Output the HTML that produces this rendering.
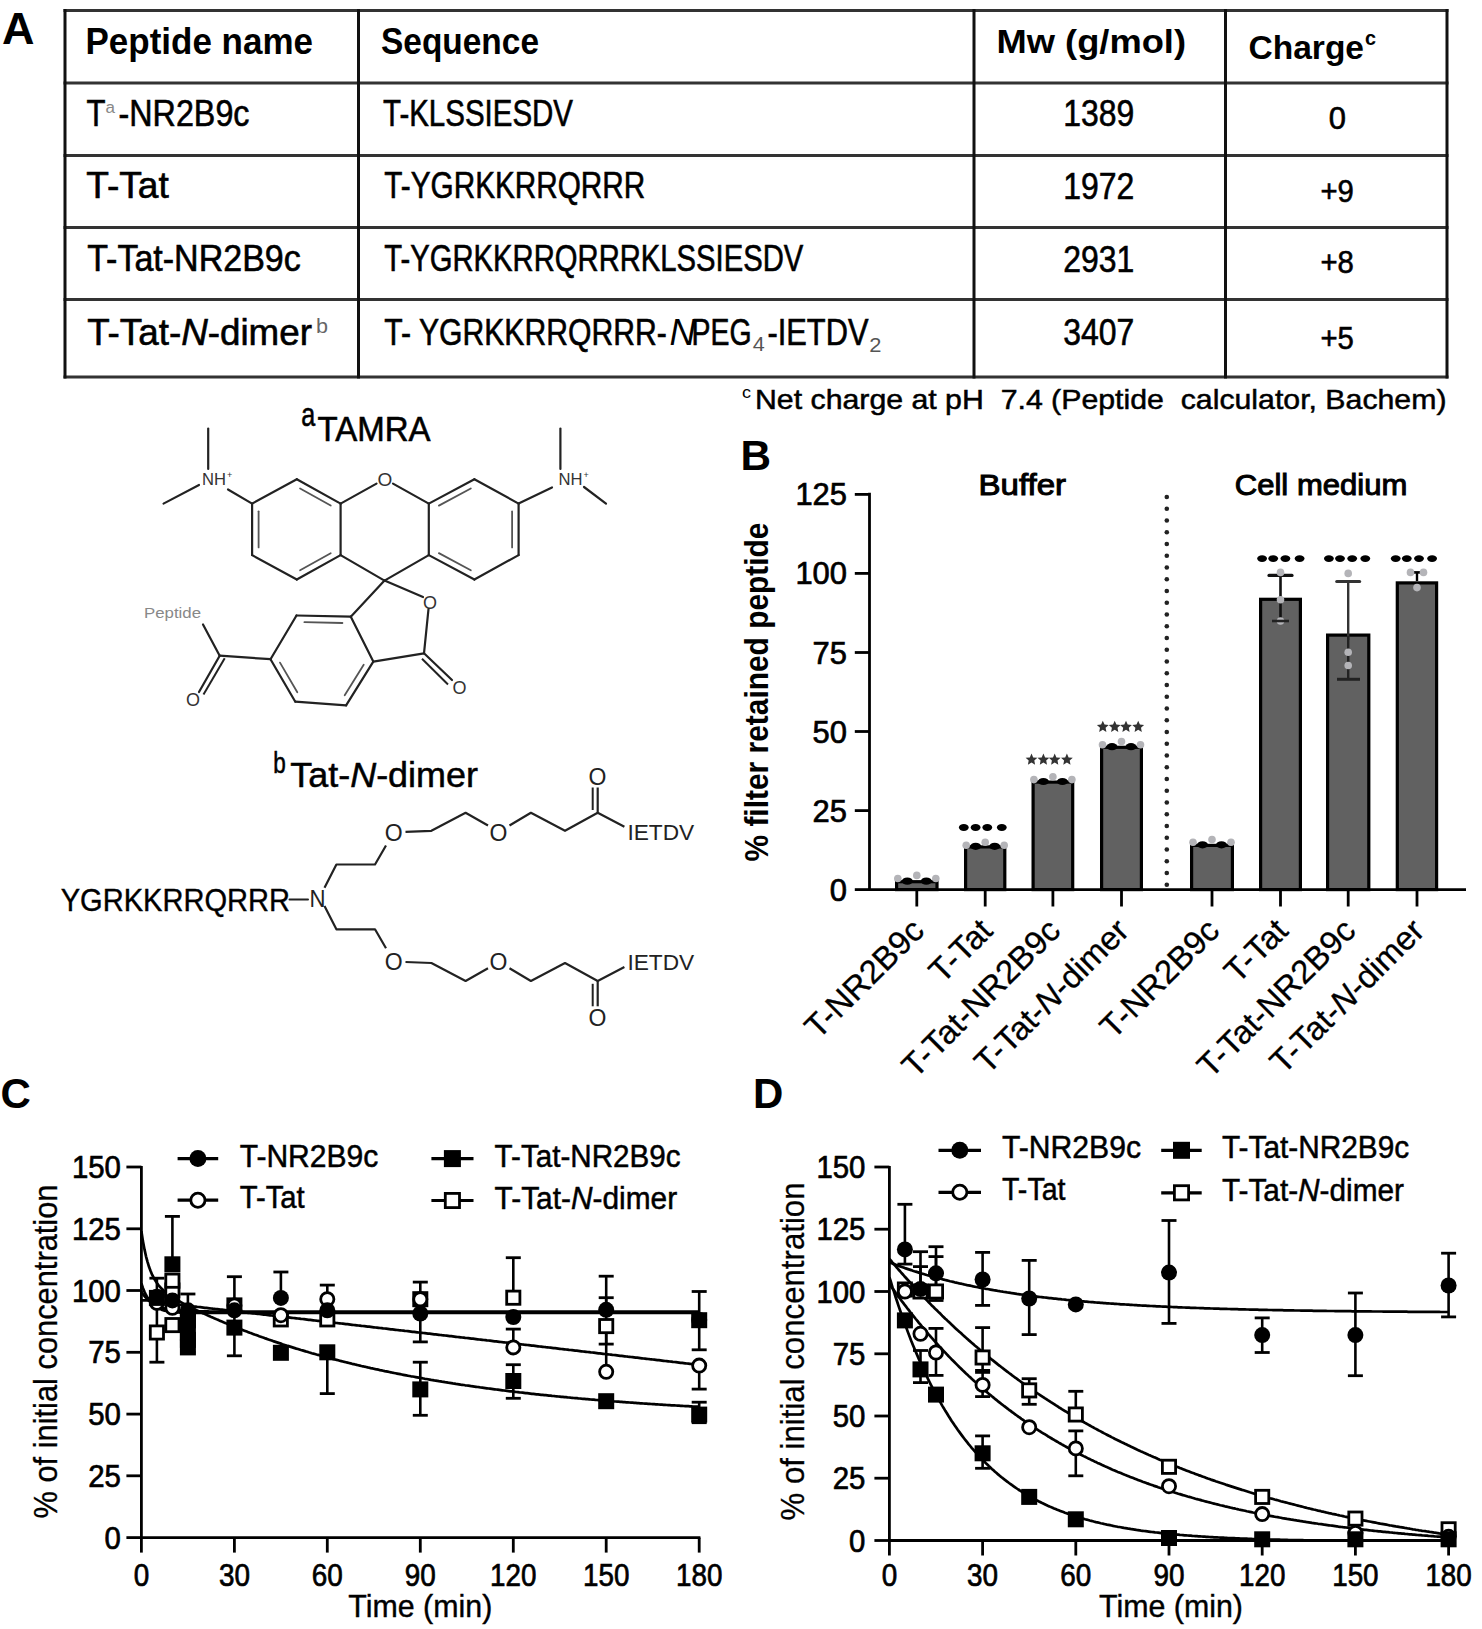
<!DOCTYPE html>
<html><head><meta charset="utf-8"><style>
html,body{margin:0;padding:0;background:#fff;}
svg{display:block;}
text{font-family:"Liberation Sans",sans-serif;}
</style></head><body>
<svg width="1482" height="1629" viewBox="0 0 1482 1629">
<rect width="1482" height="1629" fill="#fff"/>
<text x="2.0" y="43.6" font-size="43.5" font-weight="bold" textLength="32.5" lengthAdjust="spacingAndGlyphs">A</text>
<line x1="63.5" y1="10.5" x2="1448.5" y2="10.5" stroke="#333" stroke-width="3.2" />
<line x1="63.5" y1="83.0" x2="1448.5" y2="83.0" stroke="#333" stroke-width="3.2" />
<line x1="63.5" y1="155.5" x2="1448.5" y2="155.5" stroke="#333" stroke-width="3.2" />
<line x1="63.5" y1="227.5" x2="1448.5" y2="227.5" stroke="#333" stroke-width="3.2" />
<line x1="63.5" y1="299.5" x2="1448.5" y2="299.5" stroke="#333" stroke-width="3.2" />
<line x1="63.5" y1="377.0" x2="1448.5" y2="377.0" stroke="#333" stroke-width="3.2" />
<line x1="65.0" y1="9.0" x2="65.0" y2="378.5" stroke="#111" stroke-width="3" />
<line x1="358.5" y1="9.0" x2="358.5" y2="378.5" stroke="#111" stroke-width="3" />
<line x1="974.0" y1="9.0" x2="974.0" y2="378.5" stroke="#111" stroke-width="3" />
<line x1="1225.5" y1="9.0" x2="1225.5" y2="378.5" stroke="#111" stroke-width="3" />
<line x1="1447.0" y1="9.0" x2="1447.0" y2="378.5" stroke="#111" stroke-width="3" />
<text x="85.5" y="53.5" font-size="36" font-weight="bold" textLength="227.5" lengthAdjust="spacingAndGlyphs">Peptide name</text>
<text x="381.0" y="54.0" font-size="36.5" font-weight="bold" textLength="158.0" lengthAdjust="spacingAndGlyphs">Sequence</text>
<text x="996.5" y="53.0" font-size="33" font-weight="bold" textLength="189.5" lengthAdjust="spacingAndGlyphs">Mw (g/mol)</text>
<text x="1248.5" y="59.2" font-size="34" font-weight="bold" textLength="115.5" lengthAdjust="spacingAndGlyphs">Charge</text>
<text x="1365.0" y="45.0" font-size="20" font-weight="bold" textLength="11.0" lengthAdjust="spacingAndGlyphs">c</text>
<text x="86.5" y="126.4" font-size="36" textLength="19.0" lengthAdjust="spacingAndGlyphs" style="stroke:#000;stroke-width:0.6">T</text>
<text x="105.5" y="113.3" font-size="16" textLength="9.5" lengthAdjust="spacingAndGlyphs" fill="#888" style="stroke:none">a</text>
<text x="118.5" y="126.4" font-size="36" textLength="131.0" lengthAdjust="spacingAndGlyphs" style="stroke:#000;stroke-width:0.6">-NR2B9c</text>
<text x="86.3" y="198.4" font-size="36" textLength="82.5" lengthAdjust="spacingAndGlyphs" style="stroke:#000;stroke-width:0.6">T-Tat</text>
<text x="87.2" y="270.8" font-size="36" textLength="213.6" lengthAdjust="spacingAndGlyphs" style="stroke:#000;stroke-width:0.6">T-Tat-NR2B9c</text>
<text x="87.2" y="345.4" font-size="36" textLength="224.7" lengthAdjust="spacingAndGlyphs" style="stroke:#000;stroke-width:0.6">T-Tat-<tspan font-style="italic">N</tspan>-dimer</text>
<text x="316.0" y="333.3" font-size="21" textLength="12.0" lengthAdjust="spacingAndGlyphs" fill="#666" style="stroke:none">b</text>
<text x="383.0" y="126.4" font-size="36" textLength="190.0" lengthAdjust="spacingAndGlyphs" style="stroke:#000;stroke-width:0.6">T-KLSSIESDV</text>
<text x="384.3" y="198.4" font-size="36" textLength="261.0" lengthAdjust="spacingAndGlyphs" style="stroke:#000;stroke-width:0.6">T-YGRKKRRQRRR</text>
<text x="384.3" y="270.8" font-size="36" textLength="419.0" lengthAdjust="spacingAndGlyphs" style="stroke:#000;stroke-width:0.6">T-YGRKKRRQRRRKLSSIESDV</text>
<text x="384.3" y="345.4" font-size="36" textLength="282.5" lengthAdjust="spacingAndGlyphs" style="stroke:#000;stroke-width:0.6">T- YGRKKRRQRRR-</text>
<text x="669.5" y="345.4" font-size="36" textLength="26.0" lengthAdjust="spacingAndGlyphs" style="font-style:italic">N</text>
<text x="691.5" y="345.4" font-size="36" textLength="60.0" lengthAdjust="spacingAndGlyphs" style="stroke:#000;stroke-width:0.6">PEG</text>
<text x="752.8" y="350.9" font-size="21" textLength="12.0" lengthAdjust="spacingAndGlyphs" fill="#555" style="stroke:none">4</text>
<text x="767.5" y="345.4" font-size="36" textLength="101.0" lengthAdjust="spacingAndGlyphs" style="stroke:#000;stroke-width:0.6">-IETDV</text>
<text x="869.2" y="351.7" font-size="21" textLength="12.2" lengthAdjust="spacingAndGlyphs" fill="#555" style="stroke:none">2</text>
<text x="1063.2" y="126.3" font-size="36" textLength="71.0" lengthAdjust="spacingAndGlyphs" style="stroke:#000;stroke-width:0.6">1389</text>
<text x="1063.2" y="198.6" font-size="36" textLength="71.0" lengthAdjust="spacingAndGlyphs" style="stroke:#000;stroke-width:0.6">1972</text>
<text x="1063.2" y="271.5" font-size="36" textLength="71.0" lengthAdjust="spacingAndGlyphs" style="stroke:#000;stroke-width:0.6">2931</text>
<text x="1063.2" y="345.2" font-size="36" textLength="71.0" lengthAdjust="spacingAndGlyphs" style="stroke:#000;stroke-width:0.6">3407</text>
<text x="1328.7" y="128.7" font-size="31" textLength="17.2" lengthAdjust="spacingAndGlyphs" style="stroke:#000;stroke-width:0.6">0</text>
<text x="1320.4" y="201.6" font-size="31" textLength="33.4" lengthAdjust="spacingAndGlyphs" style="stroke:#000;stroke-width:0.6">+9</text>
<text x="1320.4" y="273.2" font-size="31" textLength="33.4" lengthAdjust="spacingAndGlyphs" style="stroke:#000;stroke-width:0.6">+8</text>
<text x="1320.4" y="349.0" font-size="31" textLength="33.4" lengthAdjust="spacingAndGlyphs" style="stroke:#000;stroke-width:0.6">+5</text>
<text x="742.0" y="398.0" font-size="17" textLength="9.0" lengthAdjust="spacingAndGlyphs">c</text>
<text x="755.0" y="408.7" font-size="28" textLength="691.5" lengthAdjust="spacingAndGlyphs" style="stroke:#000;stroke-width:0.5">Net charge at pH &#160;7.4 (Peptide &#160;calculator, Bachem)</text>
<text x="301.3" y="426.4" font-size="34" textLength="14.0" lengthAdjust="spacingAndGlyphs" style="stroke:#000;stroke-width:0.6">a</text>
<text x="317.5" y="440.5" font-size="35" textLength="113.0" lengthAdjust="spacingAndGlyphs" style="stroke:#000;stroke-width:0.6">TAMRA</text>
<line x1="252.1" y1="503.6" x2="296.8" y2="479.2" stroke="#222" stroke-width="2.2" stroke-linecap="round"/>
<line x1="296.8" y1="479.2" x2="340.6" y2="503.6" stroke="#222" stroke-width="2.2" stroke-linecap="round"/>
<line x1="340.6" y1="503.6" x2="340.6" y2="555.1" stroke="#222" stroke-width="2.2" stroke-linecap="round"/>
<line x1="340.6" y1="555.1" x2="296.8" y2="579.5" stroke="#222" stroke-width="2.2" stroke-linecap="round"/>
<line x1="296.8" y1="579.5" x2="252.1" y2="555.1" stroke="#222" stroke-width="2.2" stroke-linecap="round"/>
<line x1="252.1" y1="555.1" x2="252.1" y2="503.6" stroke="#222" stroke-width="2.2" stroke-linecap="round"/>
<line x1="258.6" y1="511.3" x2="258.6" y2="547.4" stroke="#555" stroke-width="1.8" stroke-linecap="round"/>
<line x1="300.1" y1="488.5" x2="330.7" y2="505.5" stroke="#555" stroke-width="1.8" stroke-linecap="round"/>
<line x1="330.7" y1="553.2" x2="300.1" y2="570.2" stroke="#555" stroke-width="1.8" stroke-linecap="round"/>
<line x1="428.8" y1="503.6" x2="474.4" y2="479.2" stroke="#222" stroke-width="2.2" stroke-linecap="round"/>
<line x1="474.4" y1="479.2" x2="518.6" y2="503.6" stroke="#222" stroke-width="2.2" stroke-linecap="round"/>
<line x1="518.6" y1="503.6" x2="518.6" y2="555.1" stroke="#222" stroke-width="2.2" stroke-linecap="round"/>
<line x1="518.6" y1="555.1" x2="474.4" y2="579.5" stroke="#222" stroke-width="2.2" stroke-linecap="round"/>
<line x1="474.4" y1="579.5" x2="428.8" y2="555.1" stroke="#222" stroke-width="2.2" stroke-linecap="round"/>
<line x1="428.8" y1="555.1" x2="428.8" y2="503.6" stroke="#222" stroke-width="2.2" stroke-linecap="round"/>
<line x1="470.8" y1="488.5" x2="438.9" y2="505.6" stroke="#555" stroke-width="1.8" stroke-linecap="round"/>
<line x1="512.1" y1="511.3" x2="512.1" y2="547.4" stroke="#555" stroke-width="1.8" stroke-linecap="round"/>
<line x1="470.8" y1="570.2" x2="438.9" y2="553.1" stroke="#555" stroke-width="1.8" stroke-linecap="round"/>
<text x="384.8" y="485.8" font-size="19" text-anchor="middle" fill="#333">O</text>
<line x1="340.6" y1="503.6" x2="376.5" y2="483.6" stroke="#222" stroke-width="2.2" stroke-linecap="round"/>
<line x1="393.0" y1="483.6" x2="428.8" y2="503.6" stroke="#222" stroke-width="2.2" stroke-linecap="round"/>
<line x1="340.6" y1="555.1" x2="384.5" y2="580.6" stroke="#222" stroke-width="2.2" stroke-linecap="round"/>
<line x1="428.8" y1="555.1" x2="384.5" y2="580.6" stroke="#222" stroke-width="2.2" stroke-linecap="round"/>
<text x="202.0" y="484.6" font-size="16" textLength="24.0" lengthAdjust="spacingAndGlyphs" fill="#333">NH</text>
<text x="227.0" y="478.0" font-size="9" fill="#333">+</text>
<line x1="208.2" y1="428.6" x2="208.2" y2="469.0" stroke="#222" stroke-width="2.2" stroke-linecap="round"/>
<line x1="163.5" y1="503.6" x2="199.0" y2="485.0" stroke="#222" stroke-width="2.2" stroke-linecap="round"/>
<line x1="228.0" y1="489.5" x2="252.1" y2="503.6" stroke="#222" stroke-width="2.2" stroke-linecap="round"/>
<text x="558.6" y="484.6" font-size="16" textLength="24.0" lengthAdjust="spacingAndGlyphs" fill="#333">NH</text>
<text x="583.6" y="478.0" font-size="9" fill="#333">+</text>
<line x1="560.4" y1="428.6" x2="560.4" y2="469.0" stroke="#222" stroke-width="2.2" stroke-linecap="round"/>
<line x1="584.0" y1="487.0" x2="606.0" y2="503.6" stroke="#222" stroke-width="2.2" stroke-linecap="round"/>
<line x1="552.0" y1="487.5" x2="518.6" y2="503.6" stroke="#222" stroke-width="2.2" stroke-linecap="round"/>
<line x1="296.5" y1="615.5" x2="350.8" y2="616.7" stroke="#222" stroke-width="2.2" stroke-linecap="round"/>
<line x1="350.8" y1="616.7" x2="373.3" y2="661.6" stroke="#222" stroke-width="2.2" stroke-linecap="round"/>
<line x1="373.3" y1="661.6" x2="346.1" y2="705.3" stroke="#222" stroke-width="2.2" stroke-linecap="round"/>
<line x1="346.1" y1="705.3" x2="295.3" y2="701.7" stroke="#222" stroke-width="2.2" stroke-linecap="round"/>
<line x1="295.3" y1="701.7" x2="270.5" y2="659.2" stroke="#222" stroke-width="2.2" stroke-linecap="round"/>
<line x1="270.5" y1="659.2" x2="296.5" y2="615.5" stroke="#222" stroke-width="2.2" stroke-linecap="round"/>
<line x1="304.4" y1="622.2" x2="342.4" y2="623.0" stroke="#555" stroke-width="1.8" stroke-linecap="round"/>
<line x1="363.7" y1="664.7" x2="344.7" y2="695.3" stroke="#555" stroke-width="1.8" stroke-linecap="round"/>
<line x1="297.3" y1="692.3" x2="280.0" y2="662.6" stroke="#555" stroke-width="1.8" stroke-linecap="round"/>
<line x1="384.5" y1="580.6" x2="350.8" y2="616.7" stroke="#222" stroke-width="2.2" stroke-linecap="round"/>
<text x="430.0" y="608.5" font-size="18" text-anchor="middle" fill="#333">O</text>
<line x1="384.5" y1="580.6" x2="423.0" y2="597.0" stroke="#222" stroke-width="2.2" stroke-linecap="round"/>
<line x1="428.5" y1="609.0" x2="424.0" y2="653.3" stroke="#222" stroke-width="2.2" stroke-linecap="round"/>
<line x1="424.0" y1="653.3" x2="373.3" y2="661.6" stroke="#222" stroke-width="2.2" stroke-linecap="round"/>
<line x1="424.0" y1="653.3" x2="452.0" y2="680.0" stroke="#222" stroke-width="2.2" stroke-linecap="round"/>
<line x1="422.0" y1="658.8" x2="448.0" y2="684.5" stroke="#222" stroke-width="2" />
<text x="459.5" y="694.0" font-size="18" text-anchor="middle" fill="#333">O</text>
<line x1="219.7" y1="655.7" x2="270.5" y2="659.2" stroke="#222" stroke-width="2.2" stroke-linecap="round"/>
<line x1="219.7" y1="655.7" x2="203.0" y2="624.5" stroke="#222" stroke-width="2.2" stroke-linecap="round"/>
<line x1="219.7" y1="655.7" x2="199.0" y2="692.0" stroke="#222" stroke-width="2.2" stroke-linecap="round"/>
<line x1="224.7" y1="658.2" x2="203.5" y2="694.5" stroke="#222" stroke-width="2" />
<text x="193.0" y="706.0" font-size="18" text-anchor="middle" fill="#333">O</text>
<text x="144.0" y="618.0" font-size="15" textLength="57.0" lengthAdjust="spacingAndGlyphs" fill="#888">Peptide</text>
<text x="273.2" y="773.3" font-size="30" textLength="12.5" lengthAdjust="spacingAndGlyphs" style="stroke:#000;stroke-width:0.6">b</text>
<text x="290.3" y="787.4" font-size="35.5" textLength="187.7" lengthAdjust="spacingAndGlyphs" style="stroke:#000;stroke-width:0.5">Tat-<tspan font-style="italic">N</tspan>-dimer</text>
<text x="60.7" y="910.5" font-size="32" textLength="229.3" lengthAdjust="spacingAndGlyphs" style="stroke:#000;stroke-width:0.4">YGRKKRRQRRR</text>
<line x1="289.5" y1="899.5" x2="308.0" y2="899.5" stroke="#222" stroke-width="2" stroke-linecap="round"/>
<text x="317.5" y="906.5" font-size="24" text-anchor="middle" textLength="16.0" lengthAdjust="spacingAndGlyphs" fill="#222">N</text>
<polyline points="324.5,887.7 336.4,864.5 375.0,864.5 386.0,845.5" fill="none" stroke="#222" stroke-width="2.2" stroke-linejoin="round" />
<text x="393.6" y="840.7" font-size="23" text-anchor="middle" fill="#222">O</text>
<polyline points="405.5,831.8 431.4,830.8 465.6,812.8 488.0,825.5" fill="none" stroke="#222" stroke-width="2.2" stroke-linejoin="round" />
<text x="498.5" y="840.7" font-size="23" text-anchor="middle" fill="#222">O</text>
<polyline points="509.5,825.5 530.9,812.8 565.0,830.8 597.7,812.8 624.4,826.8" fill="none" stroke="#222" stroke-width="2.2" stroke-linejoin="round" />
<line x1="597.7" y1="812.8" x2="597.7" y2="787.5" stroke="#222" stroke-width="2.2" />
<line x1="592.7" y1="810.0" x2="592.7" y2="787.5" stroke="#222" stroke-width="2.0" />
<text x="597.5" y="784.6" font-size="23" text-anchor="middle" fill="#222">O</text>
<text x="627.4" y="839.7" font-size="22" textLength="66.8" lengthAdjust="spacingAndGlyphs" fill="#222">IETDV</text>
<polyline points="324.5,906.1 336.4,929.3 375.0,929.3 386.0,948.3" fill="none" stroke="#222" stroke-width="2.2" stroke-linejoin="round" />
<text x="393.6" y="969.7" font-size="23" text-anchor="middle" fill="#222">O</text>
<polyline points="405.5,962.0 431.4,963.0 465.6,981.0 488.0,968.3" fill="none" stroke="#222" stroke-width="2.2" stroke-linejoin="round" />
<text x="498.5" y="969.7" font-size="23" text-anchor="middle" fill="#222">O</text>
<polyline points="509.5,968.3 530.9,981.0 565.0,963.0 597.7,981.0 624.4,967.0" fill="none" stroke="#222" stroke-width="2.2" stroke-linejoin="round" />
<line x1="597.7" y1="981.0" x2="597.7" y2="1006.3" stroke="#222" stroke-width="2.2" />
<line x1="592.7" y1="983.8" x2="592.7" y2="1006.3" stroke="#222" stroke-width="2.0" />
<text x="597.5" y="1025.8" font-size="23" text-anchor="middle" fill="#222">O</text>
<text x="627.4" y="970.1" font-size="22" textLength="66.8" lengthAdjust="spacingAndGlyphs" fill="#222">IETDV</text>
<text x="740.5" y="469.5" font-size="42.3" font-weight="bold">B</text>
<line x1="869.5" y1="492.8" x2="869.5" y2="891.0" stroke="#000" stroke-width="2.8" />
<line x1="868.2" y1="889.6" x2="1466.0" y2="889.6" stroke="#000" stroke-width="2.8" />
<line x1="854.8" y1="889.6" x2="869.5" y2="889.6" stroke="#000" stroke-width="2.8" />
<text x="847.0" y="900.6" font-size="31" text-anchor="end" textLength="17.2" lengthAdjust="spacingAndGlyphs" style="stroke:#000;stroke-width:0.7">0</text>
<line x1="854.8" y1="810.6" x2="869.5" y2="810.6" stroke="#000" stroke-width="2.8" />
<text x="847.0" y="821.6" font-size="31" text-anchor="end" textLength="34.4" lengthAdjust="spacingAndGlyphs" style="stroke:#000;stroke-width:0.7">25</text>
<line x1="854.8" y1="731.5" x2="869.5" y2="731.5" stroke="#000" stroke-width="2.8" />
<text x="847.0" y="742.5" font-size="31" text-anchor="end" textLength="34.4" lengthAdjust="spacingAndGlyphs" style="stroke:#000;stroke-width:0.7">50</text>
<line x1="854.8" y1="652.5" x2="869.5" y2="652.5" stroke="#000" stroke-width="2.8" />
<text x="847.0" y="663.5" font-size="31" text-anchor="end" textLength="34.4" lengthAdjust="spacingAndGlyphs" style="stroke:#000;stroke-width:0.7">75</text>
<line x1="854.8" y1="573.4" x2="869.5" y2="573.4" stroke="#000" stroke-width="2.8" />
<text x="847.0" y="584.4" font-size="31" text-anchor="end" textLength="51.6" lengthAdjust="spacingAndGlyphs" style="stroke:#000;stroke-width:0.7">100</text>
<line x1="854.8" y1="494.4" x2="869.5" y2="494.4" stroke="#000" stroke-width="2.8" />
<text x="847.0" y="505.4" font-size="31" text-anchor="end" textLength="51.6" lengthAdjust="spacingAndGlyphs" style="stroke:#000;stroke-width:0.7">125</text>
<text transform="translate(767.5,861.5) rotate(-90)" font-size="32.5" font-weight="bold" textLength="339" lengthAdjust="spacingAndGlyphs">% filter retained peptide</text>
<text x="978.5" y="494.8" font-size="29.5" textLength="87.5" lengthAdjust="spacingAndGlyphs" style="stroke:#000;stroke-width:1">Buffer</text>
<text x="1234.8" y="494.8" font-size="29.5" textLength="172.5" lengthAdjust="spacingAndGlyphs" style="stroke:#000;stroke-width:1">Cell medium</text>
<circle cx="1166.8" cy="497.0" r="2.3" fill="#222"/>
<circle cx="1166.8" cy="508.8" r="2.3" fill="#222"/>
<circle cx="1166.8" cy="520.5" r="2.3" fill="#222"/>
<circle cx="1166.8" cy="532.2" r="2.3" fill="#222"/>
<circle cx="1166.8" cy="544.0" r="2.3" fill="#222"/>
<circle cx="1166.8" cy="555.8" r="2.3" fill="#222"/>
<circle cx="1166.8" cy="567.5" r="2.3" fill="#222"/>
<circle cx="1166.8" cy="579.2" r="2.3" fill="#222"/>
<circle cx="1166.8" cy="591.0" r="2.3" fill="#222"/>
<circle cx="1166.8" cy="602.8" r="2.3" fill="#222"/>
<circle cx="1166.8" cy="614.5" r="2.3" fill="#222"/>
<circle cx="1166.8" cy="626.2" r="2.3" fill="#222"/>
<circle cx="1166.8" cy="638.0" r="2.3" fill="#222"/>
<circle cx="1166.8" cy="649.8" r="2.3" fill="#222"/>
<circle cx="1166.8" cy="661.5" r="2.3" fill="#222"/>
<circle cx="1166.8" cy="673.2" r="2.3" fill="#222"/>
<circle cx="1166.8" cy="685.0" r="2.3" fill="#222"/>
<circle cx="1166.8" cy="696.8" r="2.3" fill="#222"/>
<circle cx="1166.8" cy="708.5" r="2.3" fill="#222"/>
<circle cx="1166.8" cy="720.2" r="2.3" fill="#222"/>
<circle cx="1166.8" cy="732.0" r="2.3" fill="#222"/>
<circle cx="1166.8" cy="743.8" r="2.3" fill="#222"/>
<circle cx="1166.8" cy="755.5" r="2.3" fill="#222"/>
<circle cx="1166.8" cy="767.2" r="2.3" fill="#222"/>
<circle cx="1166.8" cy="779.0" r="2.3" fill="#222"/>
<circle cx="1166.8" cy="790.8" r="2.3" fill="#222"/>
<circle cx="1166.8" cy="802.5" r="2.3" fill="#222"/>
<circle cx="1166.8" cy="814.2" r="2.3" fill="#222"/>
<circle cx="1166.8" cy="826.0" r="2.3" fill="#222"/>
<circle cx="1166.8" cy="837.8" r="2.3" fill="#222"/>
<circle cx="1166.8" cy="849.5" r="2.3" fill="#222"/>
<circle cx="1166.8" cy="861.2" r="2.3" fill="#222"/>
<circle cx="1166.8" cy="873.0" r="2.3" fill="#222"/>
<circle cx="1166.8" cy="884.8" r="2.3" fill="#222"/>
<rect x="896.6" y="881.7" width="40.4" height="7.9" fill="#616161" stroke="#000" stroke-width="3.2"/>
<line x1="916.8" y1="889.6" x2="916.8" y2="906.5" stroke="#000" stroke-width="2.8" />
<rect x="965.6" y="846.9" width="39.2" height="42.7" fill="#616161" stroke="#000" stroke-width="3.2"/>
<line x1="985.2" y1="889.6" x2="985.2" y2="906.5" stroke="#000" stroke-width="2.8" />
<rect x="1033.1" y="782.1" width="39.6" height="107.5" fill="#616161" stroke="#000" stroke-width="3.2"/>
<line x1="1052.9" y1="889.6" x2="1052.9" y2="906.5" stroke="#000" stroke-width="2.8" />
<rect x="1101.6" y="747.3" width="39.8" height="142.3" fill="#616161" stroke="#000" stroke-width="3.2"/>
<line x1="1121.5" y1="889.6" x2="1121.5" y2="906.5" stroke="#000" stroke-width="2.8" />
<rect x="1191.6" y="845.4" width="40.8" height="44.2" fill="#616161" stroke="#000" stroke-width="3.2"/>
<line x1="1212.0" y1="889.6" x2="1212.0" y2="906.5" stroke="#000" stroke-width="2.8" />
<rect x="1260.6" y="599.3" width="39.8" height="290.3" fill="#616161" stroke="#000" stroke-width="3.2"/>
<line x1="1280.5" y1="889.6" x2="1280.5" y2="906.5" stroke="#000" stroke-width="2.8" />
<rect x="1327.6" y="635.1" width="41.2" height="254.5" fill="#616161" stroke="#000" stroke-width="3.2"/>
<line x1="1348.2" y1="889.6" x2="1348.2" y2="906.5" stroke="#000" stroke-width="2.8" />
<rect x="1397.3" y="582.9" width="39.3" height="306.7" fill="#616161" stroke="#000" stroke-width="3.2"/>
<line x1="1417.0" y1="889.6" x2="1417.0" y2="906.5" stroke="#000" stroke-width="2.8" />
<ellipse cx="907.3" cy="881.1" rx="5.5" ry="3.6" fill="#000"/>
<ellipse cx="926.3" cy="881.1" rx="5.5" ry="3.6" fill="#000"/>
<ellipse cx="975.7" cy="846.3" rx="5.5" ry="3.6" fill="#000"/>
<ellipse cx="994.7" cy="846.3" rx="5.5" ry="3.6" fill="#000"/>
<ellipse cx="1043.4" cy="781.5" rx="5.5" ry="3.6" fill="#000"/>
<ellipse cx="1062.4" cy="781.5" rx="5.5" ry="3.6" fill="#000"/>
<ellipse cx="1112.0" cy="746.7" rx="5.5" ry="3.6" fill="#000"/>
<ellipse cx="1131.0" cy="746.7" rx="5.5" ry="3.6" fill="#000"/>
<ellipse cx="1202.5" cy="844.8" rx="5.5" ry="3.6" fill="#000"/>
<ellipse cx="1221.5" cy="844.8" rx="5.5" ry="3.6" fill="#000"/>
<circle cx="897.8" cy="878.5" r="3.8" fill="#b4b4b8"/>
<circle cx="916.8" cy="875.4" r="3.8" fill="#b4b4b8"/>
<circle cx="935.8" cy="878.5" r="3.8" fill="#b4b4b8"/>
<circle cx="966.2" cy="845.3" r="3.8" fill="#b4b4b8"/>
<circle cx="985.2" cy="842.2" r="3.8" fill="#b4b4b8"/>
<circle cx="1004.2" cy="845.3" r="3.8" fill="#b4b4b8"/>
<circle cx="1033.9" cy="779.6" r="3.8" fill="#b4b4b8"/>
<circle cx="1052.9" cy="776.7" r="3.8" fill="#b4b4b8"/>
<circle cx="1071.9" cy="779.6" r="3.8" fill="#b4b4b8"/>
<circle cx="1102.5" cy="744.8" r="3.8" fill="#b4b4b8"/>
<circle cx="1121.5" cy="741.6" r="3.8" fill="#b4b4b8"/>
<circle cx="1140.5" cy="744.8" r="3.8" fill="#b4b4b8"/>
<circle cx="1193.0" cy="842.2" r="3.8" fill="#b4b4b8"/>
<circle cx="1212.0" cy="839.6" r="3.8" fill="#b4b4b8"/>
<circle cx="1231.0" cy="842.2" r="3.8" fill="#b4b4b8"/>
<line x1="1280.5" y1="575.4" x2="1280.5" y2="621.0" stroke="#111" stroke-width="2.6" />
<line x1="1269.0" y1="575.4" x2="1292.0" y2="575.4" stroke="#111" stroke-width="3.2" stroke-linecap="round"/>
<circle cx="1280.5" cy="572.4" r="3.8" fill="#b4b4b8"/>
<circle cx="1280.5" cy="599.7" r="3.8" fill="#b4b4b8"/>
<circle cx="1280.5" cy="621.0" r="3.8" fill="#b4b4b8"/>
<line x1="1272.0" y1="621.0" x2="1289.0" y2="621.0" stroke="#222" stroke-width="2.6" />
<line x1="1348.2" y1="581.5" x2="1348.2" y2="640.0" stroke="#333" stroke-width="2.4" />
<line x1="1336.7" y1="581.5" x2="1359.7" y2="581.5" stroke="#333" stroke-width="3.0" stroke-linecap="round"/>
<line x1="1348.2" y1="636.0" x2="1348.2" y2="679.0" stroke="#222" stroke-width="2.4" />
<line x1="1337.0" y1="679.3" x2="1360.0" y2="679.3" stroke="#222" stroke-width="3" />
<circle cx="1348.2" cy="573.4" r="3.8" fill="#b4b4b8"/>
<circle cx="1348.2" cy="652.3" r="3.8" fill="#b4b4b8"/>
<circle cx="1348.2" cy="665.5" r="3.8" fill="#b4b4b8"/>
<line x1="1417.0" y1="572.4" x2="1417.0" y2="581.0" stroke="#000" stroke-width="2.4" />
<line x1="1410.0" y1="572.4" x2="1424.0" y2="572.4" stroke="#000" stroke-width="2.6" />
<circle cx="1410.5" cy="572.4" r="3.8" fill="#b4b4b8"/>
<circle cx="1423.5" cy="572.4" r="3.8" fill="#b4b4b8"/>
<circle cx="1417.0" cy="587.6" r="3.8" fill="#b4b4b8"/>
<ellipse cx="963.8" cy="827.5" rx="4.9" ry="3.4" fill="#000"/>
<ellipse cx="975.6" cy="827.5" rx="4.9" ry="3.4" fill="#000"/>
<ellipse cx="987.3" cy="827.5" rx="4.9" ry="3.4" fill="#000"/>
<ellipse cx="1001.8" cy="827.5" rx="4.9" ry="3.4" fill="#000"/>
<polygon points="1031.5,753.5 1033.2,757.4 1037.4,757.8 1034.3,760.6 1035.1,764.7 1031.5,762.6 1027.9,764.7 1028.7,760.6 1025.6,757.8 1029.8,757.4" fill="#333"/>
<polygon points="1043.4,753.5 1045.1,757.4 1049.3,757.8 1046.2,760.6 1047.0,764.7 1043.4,762.6 1039.8,764.7 1040.6,760.6 1037.5,757.8 1041.7,757.4" fill="#333"/>
<polygon points="1054.7,753.5 1056.4,757.4 1060.6,757.8 1057.5,760.6 1058.3,764.7 1054.7,762.6 1051.1,764.7 1051.9,760.6 1048.8,757.8 1053.0,757.4" fill="#333"/>
<polygon points="1066.9,753.5 1068.6,757.4 1072.8,757.8 1069.7,760.6 1070.5,764.7 1066.9,762.6 1063.3,764.7 1064.1,760.6 1061.0,757.8 1065.2,757.4" fill="#333"/>
<polygon points="1102.8,720.7 1104.5,724.6 1108.7,725.0 1105.6,727.8 1106.4,731.9 1102.8,729.8 1099.2,731.9 1100.0,727.8 1096.9,725.0 1101.1,724.6" fill="#333"/>
<polygon points="1114.7,720.7 1116.4,724.6 1120.6,725.0 1117.5,727.8 1118.3,731.9 1114.7,729.8 1111.1,731.9 1111.9,727.8 1108.8,725.0 1113.0,724.6" fill="#333"/>
<polygon points="1126.0,720.7 1127.7,724.6 1131.9,725.0 1128.8,727.8 1129.6,731.9 1126.0,729.8 1122.4,731.9 1123.2,727.8 1120.1,725.0 1124.3,724.6" fill="#333"/>
<polygon points="1138.2,720.7 1139.9,724.6 1144.1,725.0 1141.0,727.8 1141.8,731.9 1138.2,729.8 1134.6,731.9 1135.4,727.8 1132.3,725.0 1136.5,724.6" fill="#333"/>
<ellipse cx="1262.1" cy="558.6" rx="4.9" ry="3.4" fill="#000"/>
<ellipse cx="1273.2" cy="558.6" rx="4.9" ry="3.4" fill="#000"/>
<ellipse cx="1285.4" cy="558.6" rx="4.9" ry="3.4" fill="#000"/>
<ellipse cx="1299.6" cy="558.6" rx="4.9" ry="3.4" fill="#000"/>
<ellipse cx="1328.9" cy="558.6" rx="4.9" ry="3.4" fill="#000"/>
<ellipse cx="1340.0" cy="558.6" rx="4.9" ry="3.4" fill="#000"/>
<ellipse cx="1352.2" cy="558.6" rx="4.9" ry="3.4" fill="#000"/>
<ellipse cx="1365.3" cy="558.6" rx="4.9" ry="3.4" fill="#000"/>
<ellipse cx="1395.7" cy="558.6" rx="4.9" ry="3.4" fill="#000"/>
<ellipse cx="1406.8" cy="558.6" rx="4.9" ry="3.4" fill="#000"/>
<ellipse cx="1419.0" cy="558.6" rx="4.9" ry="3.4" fill="#000"/>
<ellipse cx="1432.1" cy="558.6" rx="4.9" ry="3.4" fill="#000"/>
<text transform="translate(919.8,926.5) rotate(-45)" font-size="33" text-anchor="end" dominant-baseline="middle" style="stroke:#000;stroke-width:0.3">T-NR2B9c</text>
<text transform="translate(988.2,926.5) rotate(-45)" font-size="33" text-anchor="end" dominant-baseline="middle" style="stroke:#000;stroke-width:0.3">T-Tat</text>
<text transform="translate(1055.9,926.5) rotate(-45)" font-size="33" text-anchor="end" dominant-baseline="middle" style="stroke:#000;stroke-width:0.3">T-Tat-NR2B9c</text>
<text transform="translate(1124.5,926.5) rotate(-45)" font-size="33" text-anchor="end" dominant-baseline="middle" style="stroke:#000;stroke-width:0.3">T-Tat-<tspan font-style="italic">N</tspan>-dimer</text>
<text transform="translate(1215.0,926.5) rotate(-45)" font-size="33" text-anchor="end" dominant-baseline="middle" style="stroke:#000;stroke-width:0.3">T-NR2B9c</text>
<text transform="translate(1283.5,926.5) rotate(-45)" font-size="33" text-anchor="end" dominant-baseline="middle" style="stroke:#000;stroke-width:0.3">T-Tat</text>
<text transform="translate(1351.2,926.5) rotate(-45)" font-size="33" text-anchor="end" dominant-baseline="middle" style="stroke:#000;stroke-width:0.3">T-Tat-NR2B9c</text>
<text transform="translate(1420.0,926.5) rotate(-45)" font-size="33" text-anchor="end" dominant-baseline="middle" style="stroke:#000;stroke-width:0.3">T-Tat-<tspan font-style="italic">N</tspan>-dimer</text>
<text x="0.5" y="1108.3" font-size="42" font-weight="bold">C</text>
<line x1="141.4" y1="1166.0" x2="141.4" y2="1539.0" stroke="#000" stroke-width="2.8" />
<line x1="140.0" y1="1537.6" x2="700.4" y2="1537.6" stroke="#000" stroke-width="2.8" />
<line x1="126.4" y1="1537.6" x2="141.4" y2="1537.6" stroke="#000" stroke-width="2.8" />
<text x="120.9" y="1548.6" font-size="31" text-anchor="end" textLength="16.3" lengthAdjust="spacingAndGlyphs" style="stroke:#000;stroke-width:0.7">0</text>
<line x1="126.4" y1="1475.8" x2="141.4" y2="1475.8" stroke="#000" stroke-width="2.8" />
<text x="120.9" y="1486.8" font-size="31" text-anchor="end" textLength="32.7" lengthAdjust="spacingAndGlyphs" style="stroke:#000;stroke-width:0.7">25</text>
<line x1="126.4" y1="1414.1" x2="141.4" y2="1414.1" stroke="#000" stroke-width="2.8" />
<text x="120.9" y="1425.1" font-size="31" text-anchor="end" textLength="32.7" lengthAdjust="spacingAndGlyphs" style="stroke:#000;stroke-width:0.7">50</text>
<line x1="126.4" y1="1352.3" x2="141.4" y2="1352.3" stroke="#000" stroke-width="2.8" />
<text x="120.9" y="1363.3" font-size="31" text-anchor="end" textLength="32.7" lengthAdjust="spacingAndGlyphs" style="stroke:#000;stroke-width:0.7">75</text>
<line x1="126.4" y1="1290.5" x2="141.4" y2="1290.5" stroke="#000" stroke-width="2.8" />
<text x="120.9" y="1301.5" font-size="31" text-anchor="end" textLength="49.0" lengthAdjust="spacingAndGlyphs" style="stroke:#000;stroke-width:0.7">100</text>
<line x1="126.4" y1="1228.8" x2="141.4" y2="1228.8" stroke="#000" stroke-width="2.8" />
<text x="120.9" y="1239.8" font-size="31" text-anchor="end" textLength="49.0" lengthAdjust="spacingAndGlyphs" style="stroke:#000;stroke-width:0.7">125</text>
<line x1="126.4" y1="1167.0" x2="141.4" y2="1167.0" stroke="#000" stroke-width="2.8" />
<text x="120.9" y="1178.0" font-size="31" text-anchor="end" textLength="49.0" lengthAdjust="spacingAndGlyphs" style="stroke:#000;stroke-width:0.7">150</text>
<line x1="141.4" y1="1537.6" x2="141.4" y2="1552.6" stroke="#000" stroke-width="2.8" />
<text x="141.4" y="1585.6" font-size="31" text-anchor="middle" textLength="15.5" lengthAdjust="spacingAndGlyphs" style="stroke:#000;stroke-width:0.7">0</text>
<line x1="234.4" y1="1537.6" x2="234.4" y2="1552.6" stroke="#000" stroke-width="2.8" />
<text x="234.4" y="1585.6" font-size="31" text-anchor="middle" textLength="31.0" lengthAdjust="spacingAndGlyphs" style="stroke:#000;stroke-width:0.7">30</text>
<line x1="327.3" y1="1537.6" x2="327.3" y2="1552.6" stroke="#000" stroke-width="2.8" />
<text x="327.3" y="1585.6" font-size="31" text-anchor="middle" textLength="31.0" lengthAdjust="spacingAndGlyphs" style="stroke:#000;stroke-width:0.7">60</text>
<line x1="420.3" y1="1537.6" x2="420.3" y2="1552.6" stroke="#000" stroke-width="2.8" />
<text x="420.3" y="1585.6" font-size="31" text-anchor="middle" textLength="31.0" lengthAdjust="spacingAndGlyphs" style="stroke:#000;stroke-width:0.7">90</text>
<line x1="513.3" y1="1537.6" x2="513.3" y2="1552.6" stroke="#000" stroke-width="2.8" />
<text x="513.3" y="1585.6" font-size="31" text-anchor="middle" textLength="46.4" lengthAdjust="spacingAndGlyphs" style="stroke:#000;stroke-width:0.7">120</text>
<line x1="606.2" y1="1537.6" x2="606.2" y2="1552.6" stroke="#000" stroke-width="2.8" />
<text x="606.2" y="1585.6" font-size="31" text-anchor="middle" textLength="46.4" lengthAdjust="spacingAndGlyphs" style="stroke:#000;stroke-width:0.7">150</text>
<line x1="699.2" y1="1537.6" x2="699.2" y2="1552.6" stroke="#000" stroke-width="2.8" />
<text x="699.2" y="1585.6" font-size="31" text-anchor="middle" textLength="46.4" lengthAdjust="spacingAndGlyphs" style="stroke:#000;stroke-width:0.7">180</text>
<text x="420.3" y="1616.8" font-size="31.5" text-anchor="middle" textLength="144.0" lengthAdjust="spacingAndGlyphs" style="stroke:#000;stroke-width:0.4">Time (min)</text>
<text transform="translate(56.8,1518.5) rotate(-90)" font-size="34" textLength="334" lengthAdjust="spacingAndGlyphs" style="stroke:#000;stroke-width:0.3">% of initial concentration</text>
<polyline points="141.4,1283.4 142.9,1287.9 144.5,1291.8 146.0,1295.0 147.6,1297.8 149.1,1300.1 150.7,1302.1 152.2,1303.8 153.8,1305.2 155.3,1306.4 156.9,1307.4 158.4,1308.3 160.0,1309.0 161.5,1309.6 163.1,1310.1 164.6,1310.6 166.2,1311.0 167.7,1311.3 169.3,1311.5 170.8,1311.8 172.4,1312.0 173.9,1312.1 175.5,1312.3 177.0,1312.4 178.6,1312.5 180.1,1312.6 181.7,1312.6 183.2,1312.7 184.8,1312.7 186.3,1312.8 187.9,1312.8 189.4,1312.8 191.0,1312.9 192.5,1312.9 194.1,1312.9 195.6,1312.9 197.2,1312.9 198.7,1313.0 200.3,1313.0 201.8,1313.0 203.4,1313.0 204.9,1313.0 206.5,1313.0 208.0,1313.0 209.6,1313.0 211.1,1313.0 212.7,1313.0 214.2,1313.0 215.8,1313.0 217.3,1313.0 218.9,1313.0 220.4,1313.0 222.0,1313.0 223.5,1313.0 225.1,1313.0 226.6,1313.0 228.2,1313.0 229.7,1313.0 231.3,1313.0 232.8,1313.0 234.4,1313.0 235.9,1313.0 237.5,1313.0 239.0,1313.0 240.6,1313.0 242.1,1313.0 243.7,1313.0 245.2,1313.0 246.8,1313.0 248.3,1313.0 249.9,1313.0 251.4,1313.0 253.0,1313.0 254.5,1313.0 256.1,1313.0 257.6,1313.0 259.2,1313.0 260.7,1313.0 262.3,1313.0 263.8,1313.0 265.4,1313.0 266.9,1313.0 268.5,1313.0 270.0,1313.0 271.6,1313.0 273.1,1313.0 274.7,1313.0 276.2,1313.0 277.8,1313.0 279.3,1313.0 280.9,1313.0 282.4,1313.0 283.9,1313.0 285.5,1313.0 287.0,1313.0 288.6,1313.0 290.1,1313.0 291.7,1313.0 293.2,1313.0 294.8,1313.0 296.3,1313.0 297.9,1313.0 299.4,1313.0 301.0,1313.0 302.5,1313.0 304.1,1313.0 305.6,1313.0 307.2,1313.0 308.7,1313.0 310.3,1313.0 311.8,1313.0 313.4,1313.0 314.9,1313.0 316.5,1313.0 318.0,1313.0 319.6,1313.0 321.1,1313.0 322.7,1313.0 324.2,1313.0 325.8,1313.0 327.3,1313.0 328.9,1313.0 330.4,1313.0 332.0,1313.0 333.5,1313.0 335.1,1313.0 336.6,1313.0 338.2,1313.0 339.7,1313.0 341.3,1313.0 342.8,1313.0 344.4,1313.0 345.9,1313.0 347.5,1313.0 349.0,1313.0 350.6,1313.0 352.1,1313.0 353.7,1313.0 355.2,1313.0 356.8,1313.0 358.3,1313.0 359.9,1313.0 361.4,1313.0 363.0,1313.0 364.5,1313.0 366.1,1313.0 367.6,1313.0 369.2,1313.0 370.7,1313.0 372.3,1313.0 373.8,1313.0 375.4,1313.0 376.9,1313.0 378.5,1313.0 380.0,1313.0 381.6,1313.0 383.1,1313.0 384.7,1313.0 386.2,1313.0 387.8,1313.0 389.3,1313.0 390.9,1313.0 392.4,1313.0 394.0,1313.0 395.5,1313.0 397.1,1313.0 398.6,1313.0 400.2,1313.0 401.7,1313.0 403.3,1313.0 404.8,1313.0 406.4,1313.0 407.9,1313.0 409.5,1313.0 411.0,1313.0 412.6,1313.0 414.1,1313.0 415.7,1313.0 417.2,1313.0 418.8,1313.0 420.3,1313.0 421.8,1313.0 423.4,1313.0 424.9,1313.0 426.5,1313.0 428.0,1313.0 429.6,1313.0 431.1,1313.0 432.7,1313.0 434.2,1313.0 435.8,1313.0 437.3,1313.0 438.9,1313.0 440.4,1313.0 442.0,1313.0 443.5,1313.0 445.1,1313.0 446.6,1313.0 448.2,1313.0 449.7,1313.0 451.3,1313.0 452.8,1313.0 454.4,1313.0 455.9,1313.0 457.5,1313.0 459.0,1313.0 460.6,1313.0 462.1,1313.0 463.7,1313.0 465.2,1313.0 466.8,1313.0 468.3,1313.0 469.9,1313.0 471.4,1313.0 473.0,1313.0 474.5,1313.0 476.1,1313.0 477.6,1313.0 479.2,1313.0 480.7,1313.0 482.3,1313.0 483.8,1313.0 485.4,1313.0 486.9,1313.0 488.5,1313.0 490.0,1313.0 491.6,1313.0 493.1,1313.0 494.7,1313.0 496.2,1313.0 497.8,1313.0 499.3,1313.0 500.9,1313.0 502.4,1313.0 504.0,1313.0 505.5,1313.0 507.1,1313.0 508.6,1313.0 510.2,1313.0 511.7,1313.0 513.3,1313.0 514.8,1313.0 516.4,1313.0 517.9,1313.0 519.5,1313.0 521.0,1313.0 522.6,1313.0 524.1,1313.0 525.7,1313.0 527.2,1313.0 528.8,1313.0 530.3,1313.0 531.9,1313.0 533.4,1313.0 535.0,1313.0 536.5,1313.0 538.1,1313.0 539.6,1313.0 541.2,1313.0 542.7,1313.0 544.3,1313.0 545.8,1313.0 547.4,1313.0 548.9,1313.0 550.5,1313.0 552.0,1313.0 553.6,1313.0 555.1,1313.0 556.7,1313.0 558.2,1313.0 559.8,1313.0 561.3,1313.0 562.8,1313.0 564.4,1313.0 565.9,1313.0 567.5,1313.0 569.0,1313.0 570.6,1313.0 572.1,1313.0 573.7,1313.0 575.2,1313.0 576.8,1313.0 578.3,1313.0 579.9,1313.0 581.4,1313.0 583.0,1313.0 584.5,1313.0 586.1,1313.0 587.6,1313.0 589.2,1313.0 590.7,1313.0 592.3,1313.0 593.8,1313.0 595.4,1313.0 596.9,1313.0 598.5,1313.0 600.0,1313.0 601.6,1313.0 603.1,1313.0 604.7,1313.0 606.2,1313.0 607.8,1313.0 609.3,1313.0 610.9,1313.0 612.4,1313.0 614.0,1313.0 615.5,1313.0 617.1,1313.0 618.6,1313.0 620.2,1313.0 621.7,1313.0 623.3,1313.0 624.8,1313.0 626.4,1313.0 627.9,1313.0 629.5,1313.0 631.0,1313.0 632.6,1313.0 634.1,1313.0 635.7,1313.0 637.2,1313.0 638.8,1313.0 640.3,1313.0 641.9,1313.0 643.4,1313.0 645.0,1313.0 646.5,1313.0 648.1,1313.0 649.6,1313.0 651.2,1313.0 652.7,1313.0 654.3,1313.0 655.8,1313.0 657.4,1313.0 658.9,1313.0 660.5,1313.0 662.0,1313.0 663.6,1313.0 665.1,1313.0 666.7,1313.0 668.2,1313.0 669.8,1313.0 671.3,1313.0 672.9,1313.0 674.4,1313.0 676.0,1313.0 677.5,1313.0 679.1,1313.0 680.6,1313.0 682.2,1313.0 683.7,1313.0 685.3,1313.0 686.8,1313.0 688.4,1313.0 689.9,1313.0 691.5,1313.0 693.0,1313.0 694.6,1313.0 696.1,1313.0 697.7,1313.0 699.2,1313.0" fill="none" stroke="#000" stroke-width="2.7" stroke-linejoin="round" />
<polyline points="141.4,1291.8 142.9,1294.1 144.5,1296.1 146.0,1297.9 147.6,1299.5 149.1,1301.0 150.7,1302.2 152.2,1303.3 153.8,1304.3 155.3,1305.1 156.9,1305.9 158.4,1306.5 160.0,1307.1 161.5,1307.6 163.1,1308.1 164.6,1308.5 166.2,1308.9 167.7,1309.2 169.3,1309.5 170.8,1309.7 172.4,1309.9 173.9,1310.1 175.5,1310.3 177.0,1310.4 178.6,1310.5 180.1,1310.7 181.7,1310.8 183.2,1310.9 184.8,1310.9 186.3,1311.0 187.9,1311.1 189.4,1311.1 191.0,1311.2 192.5,1311.2 194.1,1311.3 195.6,1311.3 197.2,1311.3 198.7,1311.3 200.3,1311.4 201.8,1311.4 203.4,1311.4 204.9,1311.4 206.5,1311.4 208.0,1311.4 209.6,1311.5 211.1,1311.5 212.7,1311.5 214.2,1311.5 215.8,1311.5 217.3,1311.5 218.9,1311.5 220.4,1311.5 222.0,1311.5 223.5,1311.5 225.1,1311.5 226.6,1311.5 228.2,1311.5 229.7,1311.5 231.3,1311.5 232.8,1311.5 234.4,1311.5 235.9,1311.5 237.5,1311.5 239.0,1311.5 240.6,1311.5 242.1,1311.5 243.7,1311.5 245.2,1311.5 246.8,1311.5 248.3,1311.5 249.9,1311.5 251.4,1311.5 253.0,1311.5 254.5,1311.5 256.1,1311.5 257.6,1311.5 259.2,1311.5 260.7,1311.5 262.3,1311.5 263.8,1311.5 265.4,1311.5 266.9,1311.5 268.5,1311.5 270.0,1311.5 271.6,1311.5 273.1,1311.5 274.7,1311.5 276.2,1311.5 277.8,1311.5 279.3,1311.5 280.9,1311.5 282.4,1311.5 283.9,1311.5 285.5,1311.5 287.0,1311.5 288.6,1311.5 290.1,1311.5 291.7,1311.5 293.2,1311.5 294.8,1311.5 296.3,1311.5 297.9,1311.5 299.4,1311.5 301.0,1311.5 302.5,1311.5 304.1,1311.5 305.6,1311.5 307.2,1311.5 308.7,1311.5 310.3,1311.5 311.8,1311.5 313.4,1311.5 314.9,1311.5 316.5,1311.5 318.0,1311.5 319.6,1311.5 321.1,1311.5 322.7,1311.5 324.2,1311.5 325.8,1311.5 327.3,1311.5 328.9,1311.5 330.4,1311.5 332.0,1311.5 333.5,1311.5 335.1,1311.5 336.6,1311.5 338.2,1311.5 339.7,1311.5 341.3,1311.5 342.8,1311.5 344.4,1311.5 345.9,1311.5 347.5,1311.5 349.0,1311.5 350.6,1311.5 352.1,1311.5 353.7,1311.5 355.2,1311.5 356.8,1311.5 358.3,1311.5 359.9,1311.5 361.4,1311.5 363.0,1311.5 364.5,1311.5 366.1,1311.5 367.6,1311.5 369.2,1311.5 370.7,1311.5 372.3,1311.5 373.8,1311.5 375.4,1311.5 376.9,1311.5 378.5,1311.5 380.0,1311.5 381.6,1311.5 383.1,1311.5 384.7,1311.5 386.2,1311.5 387.8,1311.5 389.3,1311.5 390.9,1311.5 392.4,1311.5 394.0,1311.5 395.5,1311.5 397.1,1311.5 398.6,1311.5 400.2,1311.5 401.7,1311.5 403.3,1311.5 404.8,1311.5 406.4,1311.5 407.9,1311.5 409.5,1311.5 411.0,1311.5 412.6,1311.5 414.1,1311.5 415.7,1311.5 417.2,1311.5 418.8,1311.5 420.3,1311.5 421.8,1311.5 423.4,1311.5 424.9,1311.5 426.5,1311.5 428.0,1311.5 429.6,1311.5 431.1,1311.5 432.7,1311.5 434.2,1311.5 435.8,1311.5 437.3,1311.5 438.9,1311.5 440.4,1311.5 442.0,1311.5 443.5,1311.5 445.1,1311.5 446.6,1311.5 448.2,1311.5 449.7,1311.5 451.3,1311.5 452.8,1311.5 454.4,1311.5 455.9,1311.5 457.5,1311.5 459.0,1311.5 460.6,1311.5 462.1,1311.5 463.7,1311.5 465.2,1311.5 466.8,1311.5 468.3,1311.5 469.9,1311.5 471.4,1311.5 473.0,1311.5 474.5,1311.5 476.1,1311.5 477.6,1311.5 479.2,1311.5 480.7,1311.5 482.3,1311.5 483.8,1311.5 485.4,1311.5 486.9,1311.5 488.5,1311.5 490.0,1311.5 491.6,1311.5 493.1,1311.5 494.7,1311.5 496.2,1311.5 497.8,1311.5 499.3,1311.5 500.9,1311.5 502.4,1311.5 504.0,1311.5 505.5,1311.5 507.1,1311.5 508.6,1311.5 510.2,1311.5 511.7,1311.5 513.3,1311.5 514.8,1311.5 516.4,1311.5 517.9,1311.5 519.5,1311.5 521.0,1311.5 522.6,1311.5 524.1,1311.5 525.7,1311.5 527.2,1311.5 528.8,1311.5 530.3,1311.5 531.9,1311.5 533.4,1311.5 535.0,1311.5 536.5,1311.5 538.1,1311.5 539.6,1311.5 541.2,1311.5 542.7,1311.5 544.3,1311.5 545.8,1311.5 547.4,1311.5 548.9,1311.5 550.5,1311.5 552.0,1311.5 553.6,1311.5 555.1,1311.5 556.7,1311.5 558.2,1311.5 559.8,1311.5 561.3,1311.5 562.8,1311.5 564.4,1311.5 565.9,1311.5 567.5,1311.5 569.0,1311.5 570.6,1311.5 572.1,1311.5 573.7,1311.5 575.2,1311.5 576.8,1311.5 578.3,1311.5 579.9,1311.5 581.4,1311.5 583.0,1311.5 584.5,1311.5 586.1,1311.5 587.6,1311.5 589.2,1311.5 590.7,1311.5 592.3,1311.5 593.8,1311.5 595.4,1311.5 596.9,1311.5 598.5,1311.5 600.0,1311.5 601.6,1311.5 603.1,1311.5 604.7,1311.5 606.2,1311.5 607.8,1311.5 609.3,1311.5 610.9,1311.5 612.4,1311.5 614.0,1311.5 615.5,1311.5 617.1,1311.5 618.6,1311.5 620.2,1311.5 621.7,1311.5 623.3,1311.5 624.8,1311.5 626.4,1311.5 627.9,1311.5 629.5,1311.5 631.0,1311.5 632.6,1311.5 634.1,1311.5 635.7,1311.5 637.2,1311.5 638.8,1311.5 640.3,1311.5 641.9,1311.5 643.4,1311.5 645.0,1311.5 646.5,1311.5 648.1,1311.5 649.6,1311.5 651.2,1311.5 652.7,1311.5 654.3,1311.5 655.8,1311.5 657.4,1311.5 658.9,1311.5 660.5,1311.5 662.0,1311.5 663.6,1311.5 665.1,1311.5 666.7,1311.5 668.2,1311.5 669.8,1311.5 671.3,1311.5 672.9,1311.5 674.4,1311.5 676.0,1311.5 677.5,1311.5 679.1,1311.5 680.6,1311.5 682.2,1311.5 683.7,1311.5 685.3,1311.5 686.8,1311.5 688.4,1311.5 689.9,1311.5 691.5,1311.5 693.0,1311.5 694.6,1311.5 696.1,1311.5 697.7,1311.5 699.2,1311.5" fill="none" stroke="#000" stroke-width="2.7" stroke-linejoin="round" />
<polyline points="141.4,1300.4 142.9,1300.4 144.5,1300.4 146.0,1300.4 147.6,1300.4 149.1,1300.4 150.7,1300.4 152.2,1301.7 153.8,1301.8 155.3,1302.0 156.9,1302.2 158.4,1302.4 160.0,1302.6 161.5,1302.7 163.1,1302.9 164.6,1303.1 166.2,1303.3 167.7,1303.5 169.3,1303.6 170.8,1303.8 172.4,1304.0 173.9,1304.2 175.5,1304.4 177.0,1304.5 178.6,1304.7 180.1,1304.9 181.7,1305.1 183.2,1305.3 184.8,1305.4 186.3,1305.6 187.9,1305.8 189.4,1306.0 191.0,1306.1 192.5,1306.3 194.1,1306.5 195.6,1306.7 197.2,1306.9 198.7,1307.0 200.3,1307.2 201.8,1307.4 203.4,1307.6 204.9,1307.8 206.5,1307.9 208.0,1308.1 209.6,1308.3 211.1,1308.5 212.7,1308.7 214.2,1308.8 215.8,1309.0 217.3,1309.2 218.9,1309.4 220.4,1309.6 222.0,1309.7 223.5,1309.9 225.1,1310.1 226.6,1310.3 228.2,1310.4 229.7,1310.6 231.3,1310.8 232.8,1311.0 234.4,1311.2 235.9,1311.3 237.5,1311.5 239.0,1311.7 240.6,1311.9 242.1,1312.1 243.7,1312.2 245.2,1312.4 246.8,1312.6 248.3,1312.8 249.9,1313.0 251.4,1313.1 253.0,1313.3 254.5,1313.5 256.1,1313.7 257.6,1313.9 259.2,1314.0 260.7,1314.2 262.3,1314.4 263.8,1314.6 265.4,1314.7 266.9,1314.9 268.5,1315.1 270.0,1315.3 271.6,1315.5 273.1,1315.6 274.7,1315.8 276.2,1316.0 277.8,1316.2 279.3,1316.4 280.9,1316.5 282.4,1316.7 283.9,1316.9 285.5,1317.1 287.0,1317.3 288.6,1317.4 290.1,1317.6 291.7,1317.8 293.2,1318.0 294.8,1318.1 296.3,1318.3 297.9,1318.5 299.4,1318.7 301.0,1318.9 302.5,1319.0 304.1,1319.2 305.6,1319.4 307.2,1319.6 308.7,1319.8 310.3,1319.9 311.8,1320.1 313.4,1320.3 314.9,1320.5 316.5,1320.7 318.0,1320.8 319.6,1321.0 321.1,1321.2 322.7,1321.4 324.2,1321.6 325.8,1321.7 327.3,1321.9 328.9,1322.1 330.4,1322.3 332.0,1322.4 333.5,1322.6 335.1,1322.8 336.6,1323.0 338.2,1323.2 339.7,1323.3 341.3,1323.5 342.8,1323.7 344.4,1323.9 345.9,1324.1 347.5,1324.2 349.0,1324.4 350.6,1324.6 352.1,1324.8 353.7,1325.0 355.2,1325.1 356.8,1325.3 358.3,1325.5 359.9,1325.7 361.4,1325.9 363.0,1326.0 364.5,1326.2 366.1,1326.4 367.6,1326.6 369.2,1326.7 370.7,1326.9 372.3,1327.1 373.8,1327.3 375.4,1327.5 376.9,1327.6 378.5,1327.8 380.0,1328.0 381.6,1328.2 383.1,1328.4 384.7,1328.5 386.2,1328.7 387.8,1328.9 389.3,1329.1 390.9,1329.3 392.4,1329.4 394.0,1329.6 395.5,1329.8 397.1,1330.0 398.6,1330.2 400.2,1330.3 401.7,1330.5 403.3,1330.7 404.8,1330.9 406.4,1331.0 407.9,1331.2 409.5,1331.4 411.0,1331.6 412.6,1331.8 414.1,1331.9 415.7,1332.1 417.2,1332.3 418.8,1332.5 420.3,1332.7 421.8,1332.8 423.4,1333.0 424.9,1333.2 426.5,1333.4 428.0,1333.6 429.6,1333.7 431.1,1333.9 432.7,1334.1 434.2,1334.3 435.8,1334.4 437.3,1334.6 438.9,1334.8 440.4,1335.0 442.0,1335.2 443.5,1335.3 445.1,1335.5 446.6,1335.7 448.2,1335.9 449.7,1336.1 451.3,1336.2 452.8,1336.4 454.4,1336.6 455.9,1336.8 457.5,1337.0 459.0,1337.1 460.6,1337.3 462.1,1337.5 463.7,1337.7 465.2,1337.9 466.8,1338.0 468.3,1338.2 469.9,1338.4 471.4,1338.6 473.0,1338.7 474.5,1338.9 476.1,1339.1 477.6,1339.3 479.2,1339.5 480.7,1339.6 482.3,1339.8 483.8,1340.0 485.4,1340.2 486.9,1340.4 488.5,1340.5 490.0,1340.7 491.6,1340.9 493.1,1341.1 494.7,1341.3 496.2,1341.4 497.8,1341.6 499.3,1341.8 500.9,1342.0 502.4,1342.2 504.0,1342.3 505.5,1342.5 507.1,1342.7 508.6,1342.9 510.2,1343.0 511.7,1343.2 513.3,1343.4 514.8,1343.6 516.4,1343.8 517.9,1343.9 519.5,1344.1 521.0,1344.3 522.6,1344.5 524.1,1344.7 525.7,1344.8 527.2,1345.0 528.8,1345.2 530.3,1345.4 531.9,1345.6 533.4,1345.7 535.0,1345.9 536.5,1346.1 538.1,1346.3 539.6,1346.5 541.2,1346.6 542.7,1346.8 544.3,1347.0 545.8,1347.2 547.4,1347.3 548.9,1347.5 550.5,1347.7 552.0,1347.9 553.6,1348.1 555.1,1348.2 556.7,1348.4 558.2,1348.6 559.8,1348.8 561.3,1349.0 562.8,1349.1 564.4,1349.3 565.9,1349.5 567.5,1349.7 569.0,1349.9 570.6,1350.0 572.1,1350.2 573.7,1350.4 575.2,1350.6 576.8,1350.7 578.3,1350.9 579.9,1351.1 581.4,1351.3 583.0,1351.5 584.5,1351.6 586.1,1351.8 587.6,1352.0 589.2,1352.2 590.7,1352.4 592.3,1352.5 593.8,1352.7 595.4,1352.9 596.9,1353.1 598.5,1353.3 600.0,1353.4 601.6,1353.6 603.1,1353.8 604.7,1354.0 606.2,1354.2 607.8,1354.3 609.3,1354.5 610.9,1354.7 612.4,1354.9 614.0,1355.0 615.5,1355.2 617.1,1355.4 618.6,1355.6 620.2,1355.8 621.7,1355.9 623.3,1356.1 624.8,1356.3 626.4,1356.5 627.9,1356.7 629.5,1356.8 631.0,1357.0 632.6,1357.2 634.1,1357.4 635.7,1357.6 637.2,1357.7 638.8,1357.9 640.3,1358.1 641.9,1358.3 643.4,1358.5 645.0,1358.6 646.5,1358.8 648.1,1359.0 649.6,1359.2 651.2,1359.3 652.7,1359.5 654.3,1359.7 655.8,1359.9 657.4,1360.1 658.9,1360.2 660.5,1360.4 662.0,1360.6 663.6,1360.8 665.1,1361.0 666.7,1361.1 668.2,1361.3 669.8,1361.5 671.3,1361.7 672.9,1361.9 674.4,1362.0 676.0,1362.2 677.5,1362.4 679.1,1362.6 680.6,1362.8 682.2,1362.9 683.7,1363.1 685.3,1363.3 686.8,1363.5 688.4,1363.6 689.9,1363.8 691.5,1364.0 693.0,1364.2 694.6,1364.4 696.1,1364.5 697.7,1364.7 699.2,1364.9" fill="none" stroke="#000" stroke-width="2.7" stroke-linejoin="round" />
<polyline points="141.4,1231.2 142.9,1241.1 144.5,1249.4 146.0,1256.3 147.6,1262.1 149.1,1267.1 150.7,1271.3 152.2,1274.9 153.8,1277.9 155.3,1280.6 156.9,1283.0 158.4,1285.1 160.0,1286.9 161.5,1288.6 163.1,1290.1 164.6,1291.5 166.2,1292.8 167.7,1294.0 169.3,1295.1 170.8,1296.2 172.4,1297.2 173.9,1298.2 175.5,1299.1 177.0,1300.0 178.6,1300.9 180.1,1301.8 181.7,1302.6 183.2,1303.5 184.8,1304.3 186.3,1305.1 187.9,1305.9 189.4,1306.7 191.0,1307.4 192.5,1308.2 194.1,1309.0 195.6,1309.7 197.2,1310.5 198.7,1311.2 200.3,1311.9 201.8,1312.7 203.4,1313.4 204.9,1314.1 206.5,1314.8 208.0,1315.5 209.6,1316.2 211.1,1316.9 212.7,1317.6 214.2,1318.3 215.8,1318.9 217.3,1319.6 218.9,1320.3 220.4,1320.9 222.0,1321.6 223.5,1322.3 225.1,1322.9 226.6,1323.6 228.2,1324.2 229.7,1324.8 231.3,1325.5 232.8,1326.1 234.4,1326.7 235.9,1327.3 237.5,1328.0 239.0,1328.6 240.6,1329.2 242.1,1329.8 243.7,1330.4 245.2,1331.0 246.8,1331.6 248.3,1332.2 249.9,1332.8 251.4,1333.3 253.0,1333.9 254.5,1334.5 256.1,1335.0 257.6,1335.6 259.2,1336.2 260.7,1336.7 262.3,1337.3 263.8,1337.8 265.4,1338.4 266.9,1338.9 268.5,1339.5 270.0,1340.0 271.6,1340.5 273.1,1341.1 274.7,1341.6 276.2,1342.1 277.8,1342.6 279.3,1343.1 280.9,1343.6 282.4,1344.2 283.9,1344.7 285.5,1345.2 287.0,1345.7 288.6,1346.1 290.1,1346.6 291.7,1347.1 293.2,1347.6 294.8,1348.1 296.3,1348.6 297.9,1349.0 299.4,1349.5 301.0,1350.0 302.5,1350.4 304.1,1350.9 305.6,1351.4 307.2,1351.8 308.7,1352.3 310.3,1352.7 311.8,1353.2 313.4,1353.6 314.9,1354.0 316.5,1354.5 318.0,1354.9 319.6,1355.3 321.1,1355.8 322.7,1356.2 324.2,1356.6 325.8,1357.0 327.3,1357.5 328.9,1357.9 330.4,1358.3 332.0,1358.7 333.5,1359.1 335.1,1359.5 336.6,1359.9 338.2,1360.3 339.7,1360.7 341.3,1361.1 342.8,1361.5 344.4,1361.9 345.9,1362.2 347.5,1362.6 349.0,1363.0 350.6,1363.4 352.1,1363.8 353.7,1364.1 355.2,1364.5 356.8,1364.9 358.3,1365.2 359.9,1365.6 361.4,1366.0 363.0,1366.3 364.5,1366.7 366.1,1367.0 367.6,1367.4 369.2,1367.7 370.7,1368.1 372.3,1368.4 373.8,1368.7 375.4,1369.1 376.9,1369.4 378.5,1369.7 380.0,1370.1 381.6,1370.4 383.1,1370.7 384.7,1371.1 386.2,1371.4 387.8,1371.7 389.3,1372.0 390.9,1372.3 392.4,1372.7 394.0,1373.0 395.5,1373.3 397.1,1373.6 398.6,1373.9 400.2,1374.2 401.7,1374.5 403.3,1374.8 404.8,1375.1 406.4,1375.4 407.9,1375.7 409.5,1376.0 411.0,1376.3 412.6,1376.5 414.1,1376.8 415.7,1377.1 417.2,1377.4 418.8,1377.7 420.3,1378.0 421.8,1378.2 423.4,1378.5 424.9,1378.8 426.5,1379.0 428.0,1379.3 429.6,1379.6 431.1,1379.9 432.7,1380.1 434.2,1380.4 435.8,1380.6 437.3,1380.9 438.9,1381.2 440.4,1381.4 442.0,1381.7 443.5,1381.9 445.1,1382.2 446.6,1382.4 448.2,1382.7 449.7,1382.9 451.3,1383.1 452.8,1383.4 454.4,1383.6 455.9,1383.9 457.5,1384.1 459.0,1384.3 460.6,1384.6 462.1,1384.8 463.7,1385.0 465.2,1385.3 466.8,1385.5 468.3,1385.7 469.9,1385.9 471.4,1386.2 473.0,1386.4 474.5,1386.6 476.1,1386.8 477.6,1387.0 479.2,1387.2 480.7,1387.5 482.3,1387.7 483.8,1387.9 485.4,1388.1 486.9,1388.3 488.5,1388.5 490.0,1388.7 491.6,1388.9 493.1,1389.1 494.7,1389.3 496.2,1389.5 497.8,1389.7 499.3,1389.9 500.9,1390.1 502.4,1390.3 504.0,1390.5 505.5,1390.7 507.1,1390.9 508.6,1391.1 510.2,1391.3 511.7,1391.4 513.3,1391.6 514.8,1391.8 516.4,1392.0 517.9,1392.2 519.5,1392.4 521.0,1392.5 522.6,1392.7 524.1,1392.9 525.7,1393.1 527.2,1393.2 528.8,1393.4 530.3,1393.6 531.9,1393.8 533.4,1393.9 535.0,1394.1 536.5,1394.3 538.1,1394.4 539.6,1394.6 541.2,1394.8 542.7,1394.9 544.3,1395.1 545.8,1395.2 547.4,1395.4 548.9,1395.6 550.5,1395.7 552.0,1395.9 553.6,1396.0 555.1,1396.2 556.7,1396.3 558.2,1396.5 559.8,1396.6 561.3,1396.8 562.8,1396.9 564.4,1397.1 565.9,1397.2 567.5,1397.4 569.0,1397.5 570.6,1397.7 572.1,1397.8 573.7,1398.0 575.2,1398.1 576.8,1398.2 578.3,1398.4 579.9,1398.5 581.4,1398.7 583.0,1398.8 584.5,1398.9 586.1,1399.1 587.6,1399.2 589.2,1399.3 590.7,1399.5 592.3,1399.6 593.8,1399.7 595.4,1399.9 596.9,1400.0 598.5,1400.1 600.0,1400.2 601.6,1400.4 603.1,1400.5 604.7,1400.6 606.2,1400.7 607.8,1400.9 609.3,1401.0 610.9,1401.1 612.4,1401.2 614.0,1401.4 615.5,1401.5 617.1,1401.6 618.6,1401.7 620.2,1401.8 621.7,1401.9 623.3,1402.1 624.8,1402.2 626.4,1402.3 627.9,1402.4 629.5,1402.5 631.0,1402.6 632.6,1402.7 634.1,1402.8 635.7,1402.9 637.2,1403.1 638.8,1403.2 640.3,1403.3 641.9,1403.4 643.4,1403.5 645.0,1403.6 646.5,1403.7 648.1,1403.8 649.6,1403.9 651.2,1404.0 652.7,1404.1 654.3,1404.2 655.8,1404.3 657.4,1404.4 658.9,1404.5 660.5,1404.6 662.0,1404.7 663.6,1404.8 665.1,1404.9 666.7,1405.0 668.2,1405.1 669.8,1405.2 671.3,1405.3 672.9,1405.3 674.4,1405.4 676.0,1405.5 677.5,1405.6 679.1,1405.7 680.6,1405.8 682.2,1405.9 683.7,1406.0 685.3,1406.1 686.8,1406.2 688.4,1406.2 689.9,1406.3 691.5,1406.4 693.0,1406.5 694.6,1406.6 696.1,1406.7 697.7,1406.7 699.2,1406.8" fill="none" stroke="#000" stroke-width="2.7" stroke-linejoin="round" />
<line x1="156.9" y1="1332.5" x2="156.9" y2="1302.9" stroke="#000" stroke-width="2.6" />
<line x1="149.4" y1="1302.9" x2="164.4" y2="1302.9" stroke="#000" stroke-width="2.8" />
<line x1="156.9" y1="1332.5" x2="156.9" y2="1362.2" stroke="#000" stroke-width="2.6" />
<line x1="149.4" y1="1362.2" x2="164.4" y2="1362.2" stroke="#000" stroke-width="2.8" />
<line x1="172.4" y1="1290.5" x2="172.4" y2="1275.7" stroke="#000" stroke-width="2.6" />
<line x1="164.9" y1="1275.7" x2="179.9" y2="1275.7" stroke="#000" stroke-width="2.8" />
<line x1="513.3" y1="1297.7" x2="513.3" y2="1257.7" stroke="#000" stroke-width="2.6" />
<line x1="505.8" y1="1257.7" x2="520.8" y2="1257.7" stroke="#000" stroke-width="2.8" />
<line x1="606.2" y1="1326.1" x2="606.2" y2="1344.1" stroke="#000" stroke-width="2.6" />
<line x1="598.7" y1="1344.1" x2="613.7" y2="1344.1" stroke="#000" stroke-width="2.8" />
<line x1="327.3" y1="1299.2" x2="327.3" y2="1285.1" stroke="#000" stroke-width="2.6" />
<line x1="319.8" y1="1285.1" x2="334.8" y2="1285.1" stroke="#000" stroke-width="2.8" />
<line x1="513.3" y1="1347.4" x2="513.3" y2="1329.1" stroke="#000" stroke-width="2.6" />
<line x1="505.8" y1="1329.1" x2="520.8" y2="1329.1" stroke="#000" stroke-width="2.8" />
<line x1="606.2" y1="1371.8" x2="606.2" y2="1297.7" stroke="#000" stroke-width="2.6" />
<line x1="598.7" y1="1297.7" x2="613.7" y2="1297.7" stroke="#000" stroke-width="2.8" />
<line x1="699.2" y1="1365.6" x2="699.2" y2="1389.1" stroke="#000" stroke-width="2.6" />
<line x1="691.7" y1="1389.1" x2="706.7" y2="1389.1" stroke="#000" stroke-width="2.8" />
<line x1="172.4" y1="1264.3" x2="172.4" y2="1216.4" stroke="#000" stroke-width="2.6" />
<line x1="164.9" y1="1216.4" x2="179.9" y2="1216.4" stroke="#000" stroke-width="2.8" />
<line x1="187.9" y1="1339.9" x2="187.9" y2="1294.0" stroke="#000" stroke-width="2.6" />
<line x1="180.4" y1="1294.0" x2="195.4" y2="1294.0" stroke="#000" stroke-width="2.8" />
<line x1="187.9" y1="1339.9" x2="187.9" y2="1352.3" stroke="#000" stroke-width="2.6" />
<line x1="180.4" y1="1352.3" x2="195.4" y2="1352.3" stroke="#000" stroke-width="2.8" />
<line x1="234.4" y1="1327.6" x2="234.4" y2="1276.7" stroke="#000" stroke-width="2.6" />
<line x1="226.9" y1="1276.7" x2="241.9" y2="1276.7" stroke="#000" stroke-width="2.8" />
<line x1="234.4" y1="1327.6" x2="234.4" y2="1355.8" stroke="#000" stroke-width="2.6" />
<line x1="226.9" y1="1355.8" x2="241.9" y2="1355.8" stroke="#000" stroke-width="2.8" />
<line x1="327.3" y1="1352.3" x2="327.3" y2="1393.6" stroke="#000" stroke-width="2.6" />
<line x1="319.8" y1="1393.6" x2="334.8" y2="1393.6" stroke="#000" stroke-width="2.8" />
<line x1="420.3" y1="1389.4" x2="420.3" y2="1362.2" stroke="#000" stroke-width="2.6" />
<line x1="412.8" y1="1362.2" x2="427.8" y2="1362.2" stroke="#000" stroke-width="2.8" />
<line x1="420.3" y1="1389.4" x2="420.3" y2="1415.3" stroke="#000" stroke-width="2.6" />
<line x1="412.8" y1="1415.3" x2="427.8" y2="1415.3" stroke="#000" stroke-width="2.8" />
<line x1="513.3" y1="1381.0" x2="513.3" y2="1364.7" stroke="#000" stroke-width="2.6" />
<line x1="505.8" y1="1364.7" x2="520.8" y2="1364.7" stroke="#000" stroke-width="2.8" />
<line x1="513.3" y1="1381.0" x2="513.3" y2="1398.3" stroke="#000" stroke-width="2.6" />
<line x1="505.8" y1="1398.3" x2="520.8" y2="1398.3" stroke="#000" stroke-width="2.8" />
<line x1="699.2" y1="1414.6" x2="699.2" y2="1402.2" stroke="#000" stroke-width="2.6" />
<line x1="691.7" y1="1402.2" x2="706.7" y2="1402.2" stroke="#000" stroke-width="2.8" />
<line x1="699.2" y1="1414.6" x2="699.2" y2="1422.7" stroke="#000" stroke-width="2.6" />
<line x1="691.7" y1="1422.7" x2="706.7" y2="1422.7" stroke="#000" stroke-width="2.8" />
<line x1="156.9" y1="1296.7" x2="156.9" y2="1278.2" stroke="#000" stroke-width="2.6" />
<line x1="149.4" y1="1278.2" x2="164.4" y2="1278.2" stroke="#000" stroke-width="2.8" />
<line x1="280.9" y1="1297.9" x2="280.9" y2="1272.0" stroke="#000" stroke-width="2.6" />
<line x1="273.4" y1="1272.0" x2="288.4" y2="1272.0" stroke="#000" stroke-width="2.8" />
<line x1="420.3" y1="1313.5" x2="420.3" y2="1282.1" stroke="#000" stroke-width="2.6" />
<line x1="412.8" y1="1282.1" x2="427.8" y2="1282.1" stroke="#000" stroke-width="2.8" />
<line x1="420.3" y1="1313.5" x2="420.3" y2="1341.9" stroke="#000" stroke-width="2.6" />
<line x1="412.8" y1="1341.9" x2="427.8" y2="1341.9" stroke="#000" stroke-width="2.8" />
<line x1="606.2" y1="1309.8" x2="606.2" y2="1276.2" stroke="#000" stroke-width="2.6" />
<line x1="598.7" y1="1276.2" x2="613.7" y2="1276.2" stroke="#000" stroke-width="2.8" />
<line x1="699.2" y1="1319.9" x2="699.2" y2="1291.5" stroke="#000" stroke-width="2.6" />
<line x1="691.7" y1="1291.5" x2="706.7" y2="1291.5" stroke="#000" stroke-width="2.8" />
<line x1="699.2" y1="1319.9" x2="699.2" y2="1349.8" stroke="#000" stroke-width="2.6" />
<line x1="691.7" y1="1349.8" x2="706.7" y2="1349.8" stroke="#000" stroke-width="2.8" />
<rect x="150.3" y="1325.9" width="13.2" height="13.2" fill="#fff" stroke="#000" stroke-width="2.8"/>
<rect x="165.8" y="1283.9" width="13.2" height="13.2" fill="#fff" stroke="#000" stroke-width="2.8"/>
<rect x="165.8" y="1274.1" width="13.2" height="13.2" fill="#fff" stroke="#000" stroke-width="2.8"/>
<rect x="165.8" y="1318.5" width="13.2" height="13.2" fill="#fff" stroke="#000" stroke-width="2.8"/>
<rect x="181.3" y="1313.6" width="13.2" height="13.2" fill="#fff" stroke="#000" stroke-width="2.8"/>
<rect x="227.8" y="1298.8" width="13.2" height="13.2" fill="#fff" stroke="#000" stroke-width="2.8"/>
<rect x="274.2" y="1312.8" width="13.2" height="13.2" fill="#fff" stroke="#000" stroke-width="2.8"/>
<rect x="320.7" y="1312.8" width="13.2" height="13.2" fill="#fff" stroke="#000" stroke-width="2.8"/>
<rect x="413.7" y="1292.6" width="13.2" height="13.2" fill="#fff" stroke="#000" stroke-width="2.8"/>
<rect x="506.7" y="1291.1" width="13.2" height="13.2" fill="#fff" stroke="#000" stroke-width="2.8"/>
<rect x="599.6" y="1319.5" width="13.2" height="13.2" fill="#fff" stroke="#000" stroke-width="2.8"/>
<rect x="692.6" y="1313.6" width="13.2" height="13.2" fill="#fff" stroke="#000" stroke-width="2.8"/>
<circle cx="156.9" cy="1302.9" r="6.6" fill="#fff" stroke="#000" stroke-width="2.8"/>
<circle cx="172.4" cy="1307.8" r="6.6" fill="#fff" stroke="#000" stroke-width="2.8"/>
<circle cx="187.9" cy="1315.2" r="6.6" fill="#fff" stroke="#000" stroke-width="2.8"/>
<circle cx="234.4" cy="1305.4" r="6.6" fill="#fff" stroke="#000" stroke-width="2.8"/>
<circle cx="280.9" cy="1315.2" r="6.6" fill="#fff" stroke="#000" stroke-width="2.8"/>
<circle cx="327.3" cy="1299.2" r="6.6" fill="#fff" stroke="#000" stroke-width="2.8"/>
<circle cx="420.3" cy="1299.2" r="6.6" fill="#fff" stroke="#000" stroke-width="2.8"/>
<circle cx="513.3" cy="1347.4" r="6.6" fill="#fff" stroke="#000" stroke-width="2.8"/>
<circle cx="606.2" cy="1371.8" r="6.6" fill="#fff" stroke="#000" stroke-width="2.8"/>
<circle cx="699.2" cy="1365.6" r="6.6" fill="#fff" stroke="#000" stroke-width="2.8"/>
<rect x="148.9" y="1289.9" width="16" height="16" fill="#000"/>
<rect x="164.4" y="1256.3" width="16" height="16" fill="#000"/>
<rect x="179.9" y="1312.2" width="16" height="16" fill="#000"/>
<rect x="179.9" y="1324.5" width="16" height="16" fill="#000"/>
<rect x="179.9" y="1339.4" width="16" height="16" fill="#000"/>
<rect x="179.9" y="1331.9" width="16" height="16" fill="#000"/>
<rect x="226.4" y="1319.6" width="16" height="16" fill="#000"/>
<rect x="272.9" y="1344.8" width="16" height="16" fill="#000"/>
<rect x="319.3" y="1344.3" width="16" height="16" fill="#000"/>
<rect x="412.3" y="1381.4" width="16" height="16" fill="#000"/>
<rect x="505.3" y="1373.0" width="16" height="16" fill="#000"/>
<rect x="598.2" y="1393.2" width="16" height="16" fill="#000"/>
<rect x="691.2" y="1406.6" width="16" height="16" fill="#000"/>
<circle cx="156.9" cy="1296.7" r="8" fill="#000"/>
<circle cx="172.4" cy="1300.4" r="8" fill="#000"/>
<circle cx="187.9" cy="1310.3" r="8" fill="#000"/>
<circle cx="234.4" cy="1310.3" r="8" fill="#000"/>
<circle cx="280.9" cy="1297.9" r="8" fill="#000"/>
<circle cx="327.3" cy="1310.3" r="8" fill="#000"/>
<circle cx="420.3" cy="1313.5" r="8" fill="#000"/>
<circle cx="513.3" cy="1317.0" r="8" fill="#000"/>
<circle cx="606.2" cy="1309.8" r="8" fill="#000"/>
<circle cx="699.2" cy="1319.9" r="8" fill="#000"/>
<line x1="177.6" y1="1158.6" x2="218.2" y2="1158.6" stroke="#000" stroke-width="3.2" />
<circle cx="197.9" cy="1158.6" r="8.5" fill="#000"/>
<text x="239.7" y="1166.6" font-size="31" textLength="138.6" lengthAdjust="spacingAndGlyphs" style="stroke:#000;stroke-width:0.5">T-NR2B9c</text>
<line x1="177.6" y1="1200.2" x2="218.2" y2="1200.2" stroke="#000" stroke-width="3.2" />
<circle cx="197.9" cy="1200.2" r="7.1" fill="#fff" stroke="#000" stroke-width="2.8"/>
<text x="239.7" y="1208.2" font-size="31" textLength="65" lengthAdjust="spacingAndGlyphs" style="stroke:#000;stroke-width:0.5">T-Tat</text>
<line x1="431.4" y1="1158.6" x2="473.5" y2="1158.6" stroke="#000" stroke-width="3.2" />
<rect x="443.9" y="1150.1" width="17.0" height="17.0" fill="#000"/>
<text x="494.6" y="1166.6" font-size="31" textLength="186" lengthAdjust="spacingAndGlyphs" style="stroke:#000;stroke-width:0.5">T-Tat-NR2B9c</text>
<line x1="431.4" y1="1200.5" x2="473.5" y2="1200.5" stroke="#000" stroke-width="3.2" />
<rect x="445.3" y="1193.4" width="14.2" height="14.2" fill="#fff" stroke="#000" stroke-width="2.8"/>
<text x="494.6" y="1208.5" font-size="31" textLength="182.5" lengthAdjust="spacingAndGlyphs" style="stroke:#000;stroke-width:0.5">T-Tat-<tspan font-style="italic">N</tspan>-dimer</text>
<text x="753.0" y="1108.3" font-size="42" font-weight="bold">D</text>
<line x1="889.4" y1="1166.0" x2="889.4" y2="1541.9" stroke="#000" stroke-width="2.8" />
<line x1="888.0" y1="1540.5" x2="1449.8" y2="1540.5" stroke="#000" stroke-width="2.8" />
<line x1="874.4" y1="1540.5" x2="889.4" y2="1540.5" stroke="#000" stroke-width="2.8" />
<text x="865.4" y="1551.5" font-size="31" text-anchor="end" textLength="16.3" lengthAdjust="spacingAndGlyphs" style="stroke:#000;stroke-width:0.7">0</text>
<line x1="874.4" y1="1478.2" x2="889.4" y2="1478.2" stroke="#000" stroke-width="2.8" />
<text x="865.4" y="1489.2" font-size="31" text-anchor="end" textLength="32.7" lengthAdjust="spacingAndGlyphs" style="stroke:#000;stroke-width:0.7">25</text>
<line x1="874.4" y1="1416.0" x2="889.4" y2="1416.0" stroke="#000" stroke-width="2.8" />
<text x="865.4" y="1427.0" font-size="31" text-anchor="end" textLength="32.7" lengthAdjust="spacingAndGlyphs" style="stroke:#000;stroke-width:0.7">50</text>
<line x1="874.4" y1="1353.8" x2="889.4" y2="1353.8" stroke="#000" stroke-width="2.8" />
<text x="865.4" y="1364.8" font-size="31" text-anchor="end" textLength="32.7" lengthAdjust="spacingAndGlyphs" style="stroke:#000;stroke-width:0.7">75</text>
<line x1="874.4" y1="1291.5" x2="889.4" y2="1291.5" stroke="#000" stroke-width="2.8" />
<text x="865.4" y="1302.5" font-size="31" text-anchor="end" textLength="49.0" lengthAdjust="spacingAndGlyphs" style="stroke:#000;stroke-width:0.7">100</text>
<line x1="874.4" y1="1229.2" x2="889.4" y2="1229.2" stroke="#000" stroke-width="2.8" />
<text x="865.4" y="1240.2" font-size="31" text-anchor="end" textLength="49.0" lengthAdjust="spacingAndGlyphs" style="stroke:#000;stroke-width:0.7">125</text>
<line x1="874.4" y1="1167.0" x2="889.4" y2="1167.0" stroke="#000" stroke-width="2.8" />
<text x="865.4" y="1178.0" font-size="31" text-anchor="end" textLength="49.0" lengthAdjust="spacingAndGlyphs" style="stroke:#000;stroke-width:0.7">150</text>
<line x1="889.4" y1="1540.5" x2="889.4" y2="1555.5" stroke="#000" stroke-width="2.8" />
<text x="889.4" y="1586.0" font-size="31" text-anchor="middle" textLength="15.5" lengthAdjust="spacingAndGlyphs" style="stroke:#000;stroke-width:0.7">0</text>
<line x1="982.6" y1="1540.5" x2="982.6" y2="1555.5" stroke="#000" stroke-width="2.8" />
<text x="982.6" y="1586.0" font-size="31" text-anchor="middle" textLength="31.0" lengthAdjust="spacingAndGlyphs" style="stroke:#000;stroke-width:0.7">30</text>
<line x1="1075.8" y1="1540.5" x2="1075.8" y2="1555.5" stroke="#000" stroke-width="2.8" />
<text x="1075.8" y="1586.0" font-size="31" text-anchor="middle" textLength="31.0" lengthAdjust="spacingAndGlyphs" style="stroke:#000;stroke-width:0.7">60</text>
<line x1="1169.0" y1="1540.5" x2="1169.0" y2="1555.5" stroke="#000" stroke-width="2.8" />
<text x="1169.0" y="1586.0" font-size="31" text-anchor="middle" textLength="31.0" lengthAdjust="spacingAndGlyphs" style="stroke:#000;stroke-width:0.7">90</text>
<line x1="1262.2" y1="1540.5" x2="1262.2" y2="1555.5" stroke="#000" stroke-width="2.8" />
<text x="1262.2" y="1586.0" font-size="31" text-anchor="middle" textLength="46.4" lengthAdjust="spacingAndGlyphs" style="stroke:#000;stroke-width:0.7">120</text>
<line x1="1355.4" y1="1540.5" x2="1355.4" y2="1555.5" stroke="#000" stroke-width="2.8" />
<text x="1355.4" y="1586.0" font-size="31" text-anchor="middle" textLength="46.4" lengthAdjust="spacingAndGlyphs" style="stroke:#000;stroke-width:0.7">150</text>
<line x1="1448.6" y1="1540.5" x2="1448.6" y2="1555.5" stroke="#000" stroke-width="2.8" />
<text x="1448.6" y="1586.0" font-size="31" text-anchor="middle" textLength="46.4" lengthAdjust="spacingAndGlyphs" style="stroke:#000;stroke-width:0.7">180</text>
<text x="1171.0" y="1616.5" font-size="31.5" text-anchor="middle" textLength="144.0" lengthAdjust="spacingAndGlyphs" style="stroke:#000;stroke-width:0.4">Time (min)</text>
<text transform="translate(803.8,1520.5) rotate(-90)" font-size="34" textLength="338" lengthAdjust="spacingAndGlyphs" style="stroke:#000;stroke-width:0.3">% of initial concentration</text>
<polyline points="889.4,1262.4 891.0,1263.0 892.5,1263.6 894.1,1264.1 895.6,1264.7 897.2,1265.3 898.7,1265.9 900.3,1266.4 901.8,1267.0 903.4,1267.5 904.9,1268.1 906.5,1268.6 908.0,1269.1 909.6,1269.6 911.1,1270.1 912.7,1270.7 914.3,1271.2 915.8,1271.6 917.4,1272.1 918.9,1272.6 920.5,1273.1 922.0,1273.6 923.6,1274.0 925.1,1274.5 926.7,1275.0 928.2,1275.4 929.8,1275.8 931.3,1276.3 932.9,1276.7 934.4,1277.1 936.0,1277.6 937.6,1278.0 939.1,1278.4 940.7,1278.8 942.2,1279.2 943.8,1279.6 945.3,1280.0 946.9,1280.4 948.4,1280.8 950.0,1281.2 951.5,1281.5 953.1,1281.9 954.6,1282.3 956.2,1282.6 957.7,1283.0 959.3,1283.4 960.9,1283.7 962.4,1284.0 964.0,1284.4 965.5,1284.7 967.1,1285.1 968.6,1285.4 970.2,1285.7 971.7,1286.0 973.3,1286.4 974.8,1286.7 976.4,1287.0 977.9,1287.3 979.5,1287.6 981.0,1287.9 982.6,1288.2 984.2,1288.5 985.7,1288.8 987.3,1289.0 988.8,1289.3 990.4,1289.6 991.9,1289.9 993.5,1290.2 995.0,1290.4 996.6,1290.7 998.1,1291.0 999.7,1291.2 1001.2,1291.5 1002.8,1291.7 1004.3,1292.0 1005.9,1292.2 1007.5,1292.5 1009.0,1292.7 1010.6,1292.9 1012.1,1293.2 1013.7,1293.4 1015.2,1293.6 1016.8,1293.9 1018.3,1294.1 1019.9,1294.3 1021.4,1294.5 1023.0,1294.7 1024.5,1295.0 1026.1,1295.2 1027.6,1295.4 1029.2,1295.6 1030.8,1295.8 1032.3,1296.0 1033.9,1296.2 1035.4,1296.4 1037.0,1296.6 1038.5,1296.8 1040.1,1297.0 1041.6,1297.1 1043.2,1297.3 1044.7,1297.5 1046.3,1297.7 1047.8,1297.9 1049.4,1298.1 1050.9,1298.2 1052.5,1298.4 1054.1,1298.6 1055.6,1298.7 1057.2,1298.9 1058.7,1299.1 1060.3,1299.2 1061.8,1299.4 1063.4,1299.5 1064.9,1299.7 1066.5,1299.9 1068.0,1300.0 1069.6,1300.2 1071.1,1300.3 1072.7,1300.5 1074.2,1300.6 1075.8,1300.7 1077.4,1300.9 1078.9,1301.0 1080.5,1301.2 1082.0,1301.3 1083.6,1301.4 1085.1,1301.6 1086.7,1301.7 1088.2,1301.8 1089.8,1302.0 1091.3,1302.1 1092.9,1302.2 1094.4,1302.3 1096.0,1302.5 1097.5,1302.6 1099.1,1302.7 1100.7,1302.8 1102.2,1302.9 1103.8,1303.1 1105.3,1303.2 1106.9,1303.3 1108.4,1303.4 1110.0,1303.5 1111.5,1303.6 1113.1,1303.7 1114.6,1303.8 1116.2,1303.9 1117.7,1304.0 1119.3,1304.1 1120.8,1304.3 1122.4,1304.4 1124.0,1304.4 1125.5,1304.5 1127.1,1304.6 1128.6,1304.7 1130.2,1304.8 1131.7,1304.9 1133.3,1305.0 1134.8,1305.1 1136.4,1305.2 1137.9,1305.3 1139.5,1305.4 1141.0,1305.5 1142.6,1305.6 1144.1,1305.6 1145.7,1305.7 1147.3,1305.8 1148.8,1305.9 1150.4,1306.0 1151.9,1306.0 1153.5,1306.1 1155.0,1306.2 1156.6,1306.3 1158.1,1306.4 1159.7,1306.4 1161.2,1306.5 1162.8,1306.6 1164.3,1306.7 1165.9,1306.7 1167.4,1306.8 1169.0,1306.9 1170.6,1306.9 1172.1,1307.0 1173.7,1307.1 1175.2,1307.1 1176.8,1307.2 1178.3,1307.3 1179.9,1307.3 1181.4,1307.4 1183.0,1307.5 1184.5,1307.5 1186.1,1307.6 1187.6,1307.6 1189.2,1307.7 1190.7,1307.8 1192.3,1307.8 1193.9,1307.9 1195.4,1307.9 1197.0,1308.0 1198.5,1308.0 1200.1,1308.1 1201.6,1308.2 1203.2,1308.2 1204.7,1308.3 1206.3,1308.3 1207.8,1308.4 1209.4,1308.4 1210.9,1308.5 1212.5,1308.5 1214.0,1308.6 1215.6,1308.6 1217.2,1308.7 1218.7,1308.7 1220.3,1308.8 1221.8,1308.8 1223.4,1308.9 1224.9,1308.9 1226.5,1308.9 1228.0,1309.0 1229.6,1309.0 1231.1,1309.1 1232.7,1309.1 1234.2,1309.2 1235.8,1309.2 1237.3,1309.2 1238.9,1309.3 1240.5,1309.3 1242.0,1309.4 1243.6,1309.4 1245.1,1309.4 1246.7,1309.5 1248.2,1309.5 1249.8,1309.6 1251.3,1309.6 1252.9,1309.6 1254.4,1309.7 1256.0,1309.7 1257.5,1309.7 1259.1,1309.8 1260.6,1309.8 1262.2,1309.8 1263.8,1309.9 1265.3,1309.9 1266.9,1309.9 1268.4,1310.0 1270.0,1310.0 1271.5,1310.0 1273.1,1310.1 1274.6,1310.1 1276.2,1310.1 1277.7,1310.2 1279.3,1310.2 1280.8,1310.2 1282.4,1310.2 1283.9,1310.3 1285.5,1310.3 1287.1,1310.3 1288.6,1310.4 1290.2,1310.4 1291.7,1310.4 1293.3,1310.4 1294.8,1310.5 1296.4,1310.5 1297.9,1310.5 1299.5,1310.5 1301.0,1310.6 1302.6,1310.6 1304.1,1310.6 1305.7,1310.6 1307.2,1310.7 1308.8,1310.7 1310.4,1310.7 1311.9,1310.7 1313.5,1310.8 1315.0,1310.8 1316.6,1310.8 1318.1,1310.8 1319.7,1310.9 1321.2,1310.9 1322.8,1310.9 1324.3,1310.9 1325.9,1310.9 1327.4,1311.0 1329.0,1311.0 1330.5,1311.0 1332.1,1311.0 1333.7,1311.0 1335.2,1311.1 1336.8,1311.1 1338.3,1311.1 1339.9,1311.1 1341.4,1311.1 1343.0,1311.2 1344.5,1311.2 1346.1,1311.2 1347.6,1311.2 1349.2,1311.2 1350.7,1311.2 1352.3,1311.3 1353.8,1311.3 1355.4,1311.3 1357.0,1311.3 1358.5,1311.3 1360.1,1311.3 1361.6,1311.4 1363.2,1311.4 1364.7,1311.4 1366.3,1311.4 1367.8,1311.4 1369.4,1311.4 1370.9,1311.4 1372.5,1311.5 1374.0,1311.5 1375.6,1311.5 1377.1,1311.5 1378.7,1311.5 1380.3,1311.5 1381.8,1311.5 1383.4,1311.6 1384.9,1311.6 1386.5,1311.6 1388.0,1311.6 1389.6,1311.6 1391.1,1311.6 1392.7,1311.6 1394.2,1311.6 1395.8,1311.7 1397.3,1311.7 1398.9,1311.7 1400.4,1311.7 1402.0,1311.7 1403.6,1311.7 1405.1,1311.7 1406.7,1311.7 1408.2,1311.8 1409.8,1311.8 1411.3,1311.8 1412.9,1311.8 1414.4,1311.8 1416.0,1311.8 1417.5,1311.8 1419.1,1311.8 1420.6,1311.8 1422.2,1311.8 1423.7,1311.9 1425.3,1311.9 1426.9,1311.9 1428.4,1311.9 1430.0,1311.9 1431.5,1311.9 1433.1,1311.9 1434.6,1311.9 1436.2,1311.9 1437.7,1311.9 1439.3,1311.9 1440.8,1312.0 1442.4,1312.0 1443.9,1312.0 1445.5,1312.0 1447.0,1312.0 1448.6,1312.0" fill="none" stroke="#000" stroke-width="2.7" stroke-linejoin="round" />
<polyline points="889.4,1284.0 891.0,1286.2 892.5,1288.4 894.1,1290.5 895.6,1292.7 897.2,1294.8 898.7,1296.9 900.3,1299.0 901.8,1301.1 903.4,1303.1 904.9,1305.2 906.5,1307.2 908.0,1309.2 909.6,1311.2 911.1,1313.2 912.7,1315.1 914.3,1317.1 915.8,1319.0 917.4,1320.9 918.9,1322.8 920.5,1324.7 922.0,1326.6 923.6,1328.4 925.1,1330.2 926.7,1332.1 928.2,1333.9 929.8,1335.7 931.3,1337.4 932.9,1339.2 934.4,1340.9 936.0,1342.7 937.6,1344.4 939.1,1346.1 940.7,1347.8 942.2,1349.4 943.8,1351.1 945.3,1352.7 946.9,1354.4 948.4,1356.0 950.0,1357.6 951.5,1359.2 953.1,1360.8 954.6,1362.3 956.2,1363.9 957.7,1365.4 959.3,1367.0 960.9,1368.5 962.4,1370.0 964.0,1371.5 965.5,1373.0 967.1,1374.4 968.6,1375.9 970.2,1377.3 971.7,1378.8 973.3,1380.2 974.8,1381.6 976.4,1383.0 977.9,1384.4 979.5,1385.7 981.0,1387.1 982.6,1388.4 984.2,1389.8 985.7,1391.1 987.3,1392.4 988.8,1393.7 990.4,1395.0 991.9,1396.3 993.5,1397.6 995.0,1398.9 996.6,1400.1 998.1,1401.4 999.7,1402.6 1001.2,1403.8 1002.8,1405.0 1004.3,1406.2 1005.9,1407.4 1007.5,1408.6 1009.0,1409.8 1010.6,1410.9 1012.1,1412.1 1013.7,1413.2 1015.2,1414.4 1016.8,1415.5 1018.3,1416.6 1019.9,1417.7 1021.4,1418.8 1023.0,1419.9 1024.5,1421.0 1026.1,1422.1 1027.6,1423.1 1029.2,1424.2 1030.8,1425.2 1032.3,1426.3 1033.9,1427.3 1035.4,1428.3 1037.0,1429.3 1038.5,1430.3 1040.1,1431.3 1041.6,1432.3 1043.2,1433.3 1044.7,1434.2 1046.3,1435.2 1047.8,1436.2 1049.4,1437.1 1050.9,1438.0 1052.5,1439.0 1054.1,1439.9 1055.6,1440.8 1057.2,1441.7 1058.7,1442.6 1060.3,1443.5 1061.8,1444.4 1063.4,1445.3 1064.9,1446.1 1066.5,1447.0 1068.0,1447.9 1069.6,1448.7 1071.1,1449.6 1072.7,1450.4 1074.2,1451.2 1075.8,1452.0 1077.4,1452.9 1078.9,1453.7 1080.5,1454.5 1082.0,1455.3 1083.6,1456.1 1085.1,1456.8 1086.7,1457.6 1088.2,1458.4 1089.8,1459.1 1091.3,1459.9 1092.9,1460.6 1094.4,1461.4 1096.0,1462.1 1097.5,1462.9 1099.1,1463.6 1100.7,1464.3 1102.2,1465.0 1103.8,1465.7 1105.3,1466.4 1106.9,1467.1 1108.4,1467.8 1110.0,1468.5 1111.5,1469.2 1113.1,1469.9 1114.6,1470.5 1116.2,1471.2 1117.7,1471.9 1119.3,1472.5 1120.8,1473.1 1122.4,1473.8 1124.0,1474.4 1125.5,1475.1 1127.1,1475.7 1128.6,1476.3 1130.2,1476.9 1131.7,1477.5 1133.3,1478.1 1134.8,1478.7 1136.4,1479.3 1137.9,1479.9 1139.5,1480.5 1141.0,1481.1 1142.6,1481.7 1144.1,1482.2 1145.7,1482.8 1147.3,1483.4 1148.8,1483.9 1150.4,1484.5 1151.9,1485.0 1153.5,1485.6 1155.0,1486.1 1156.6,1486.6 1158.1,1487.2 1159.7,1487.7 1161.2,1488.2 1162.8,1488.7 1164.3,1489.2 1165.9,1489.8 1167.4,1490.3 1169.0,1490.8 1170.6,1491.3 1172.1,1491.7 1173.7,1492.2 1175.2,1492.7 1176.8,1493.2 1178.3,1493.7 1179.9,1494.1 1181.4,1494.6 1183.0,1495.1 1184.5,1495.5 1186.1,1496.0 1187.6,1496.5 1189.2,1496.9 1190.7,1497.3 1192.3,1497.8 1193.9,1498.2 1195.4,1498.7 1197.0,1499.1 1198.5,1499.5 1200.1,1499.9 1201.6,1500.4 1203.2,1500.8 1204.7,1501.2 1206.3,1501.6 1207.8,1502.0 1209.4,1502.4 1210.9,1502.8 1212.5,1503.2 1214.0,1503.6 1215.6,1504.0 1217.2,1504.4 1218.7,1504.8 1220.3,1505.2 1221.8,1505.5 1223.4,1505.9 1224.9,1506.3 1226.5,1506.6 1228.0,1507.0 1229.6,1507.4 1231.1,1507.7 1232.7,1508.1 1234.2,1508.4 1235.8,1508.8 1237.3,1509.1 1238.9,1509.5 1240.5,1509.8 1242.0,1510.2 1243.6,1510.5 1245.1,1510.8 1246.7,1511.2 1248.2,1511.5 1249.8,1511.8 1251.3,1512.1 1252.9,1512.5 1254.4,1512.8 1256.0,1513.1 1257.5,1513.4 1259.1,1513.7 1260.6,1514.0 1262.2,1514.3 1263.8,1514.6 1265.3,1514.9 1266.9,1515.2 1268.4,1515.5 1270.0,1515.8 1271.5,1516.1 1273.1,1516.4 1274.6,1516.7 1276.2,1517.0 1277.7,1517.2 1279.3,1517.5 1280.8,1517.8 1282.4,1518.1 1283.9,1518.3 1285.5,1518.6 1287.1,1518.9 1288.6,1519.1 1290.2,1519.4 1291.7,1519.7 1293.3,1519.9 1294.8,1520.2 1296.4,1520.4 1297.9,1520.7 1299.5,1520.9 1301.0,1521.2 1302.6,1521.4 1304.1,1521.7 1305.7,1521.9 1307.2,1522.2 1308.8,1522.4 1310.4,1522.6 1311.9,1522.9 1313.5,1523.1 1315.0,1523.3 1316.6,1523.5 1318.1,1523.8 1319.7,1524.0 1321.2,1524.2 1322.8,1524.4 1324.3,1524.7 1325.9,1524.9 1327.4,1525.1 1329.0,1525.3 1330.5,1525.5 1332.1,1525.7 1333.7,1525.9 1335.2,1526.1 1336.8,1526.3 1338.3,1526.6 1339.9,1526.8 1341.4,1527.0 1343.0,1527.2 1344.5,1527.3 1346.1,1527.5 1347.6,1527.7 1349.2,1527.9 1350.7,1528.1 1352.3,1528.3 1353.8,1528.5 1355.4,1528.7 1357.0,1528.9 1358.5,1529.0 1360.1,1529.2 1361.6,1529.4 1363.2,1529.6 1364.7,1529.8 1366.3,1529.9 1367.8,1530.1 1369.4,1530.3 1370.9,1530.5 1372.5,1530.6 1374.0,1530.8 1375.6,1531.0 1377.1,1531.1 1378.7,1531.3 1380.3,1531.4 1381.8,1531.6 1383.4,1531.8 1384.9,1531.9 1386.5,1532.1 1388.0,1532.2 1389.6,1532.4 1391.1,1532.5 1392.7,1532.7 1394.2,1532.8 1395.8,1533.0 1397.3,1533.1 1398.9,1533.3 1400.4,1533.4 1402.0,1533.6 1403.6,1533.7 1405.1,1533.9 1406.7,1534.0 1408.2,1534.2 1409.8,1534.3 1411.3,1534.4 1412.9,1534.6 1414.4,1534.7 1416.0,1534.8 1417.5,1535.0 1419.1,1535.1 1420.6,1535.2 1422.2,1535.4 1423.7,1535.5 1425.3,1535.6 1426.9,1535.7 1428.4,1535.9 1430.0,1536.0 1431.5,1536.1 1433.1,1536.2 1434.6,1536.4 1436.2,1536.5 1437.7,1536.6 1439.3,1536.7 1440.8,1536.8 1442.4,1537.0 1443.9,1537.1 1445.5,1537.2 1447.0,1537.3 1448.6,1537.4" fill="none" stroke="#000" stroke-width="2.7" stroke-linejoin="round" />
<polyline points="889.4,1277.1 891.0,1282.2 892.5,1287.3 894.1,1292.2 895.6,1297.0 897.2,1301.8 898.7,1306.4 900.3,1311.0 901.8,1315.4 903.4,1319.8 904.9,1324.1 906.5,1328.3 908.0,1332.4 909.6,1336.5 911.1,1340.5 912.7,1344.4 914.3,1348.2 915.8,1351.9 917.4,1355.6 918.9,1359.2 920.5,1362.7 922.0,1366.2 923.6,1369.6 925.1,1372.9 926.7,1376.2 928.2,1379.4 929.8,1382.6 931.3,1385.6 932.9,1388.7 934.4,1391.6 936.0,1394.5 937.6,1397.4 939.1,1400.2 940.7,1402.9 942.2,1405.6 943.8,1408.2 945.3,1410.8 946.9,1413.3 948.4,1415.8 950.0,1418.3 951.5,1420.7 953.1,1423.0 954.6,1425.3 956.2,1427.6 957.7,1429.8 959.3,1431.9 960.9,1434.1 962.4,1436.1 964.0,1438.2 965.5,1440.2 967.1,1442.2 968.6,1444.1 970.2,1446.0 971.7,1447.8 973.3,1449.6 974.8,1451.4 976.4,1453.2 977.9,1454.9 979.5,1456.6 981.0,1458.2 982.6,1459.8 984.2,1461.4 985.7,1463.0 987.3,1464.5 988.8,1466.0 990.4,1467.5 991.9,1468.9 993.5,1470.3 995.0,1471.7 996.6,1473.0 998.1,1474.4 999.7,1475.7 1001.2,1477.0 1002.8,1478.2 1004.3,1479.4 1005.9,1480.6 1007.5,1481.8 1009.0,1483.0 1010.6,1484.1 1012.1,1485.2 1013.7,1486.3 1015.2,1487.4 1016.8,1488.5 1018.3,1489.5 1019.9,1490.5 1021.4,1491.5 1023.0,1492.5 1024.5,1493.4 1026.1,1494.3 1027.6,1495.3 1029.2,1496.2 1030.8,1497.0 1032.3,1497.9 1033.9,1498.8 1035.4,1499.6 1037.0,1500.4 1038.5,1501.2 1040.1,1502.0 1041.6,1502.8 1043.2,1503.5 1044.7,1504.2 1046.3,1505.0 1047.8,1505.7 1049.4,1506.4 1050.9,1507.1 1052.5,1507.7 1054.1,1508.4 1055.6,1509.0 1057.2,1509.7 1058.7,1510.3 1060.3,1510.9 1061.8,1511.5 1063.4,1512.1 1064.9,1512.7 1066.5,1513.2 1068.0,1513.8 1069.6,1514.3 1071.1,1514.8 1072.7,1515.4 1074.2,1515.9 1075.8,1516.4 1077.4,1516.9 1078.9,1517.3 1080.5,1517.8 1082.0,1518.3 1083.6,1518.7 1085.1,1519.2 1086.7,1519.6 1088.2,1520.0 1089.8,1520.5 1091.3,1520.9 1092.9,1521.3 1094.4,1521.7 1096.0,1522.1 1097.5,1522.4 1099.1,1522.8 1100.7,1523.2 1102.2,1523.5 1103.8,1523.9 1105.3,1524.2 1106.9,1524.6 1108.4,1524.9 1110.0,1525.2 1111.5,1525.5 1113.1,1525.9 1114.6,1526.2 1116.2,1526.5 1117.7,1526.8 1119.3,1527.0 1120.8,1527.3 1122.4,1527.6 1124.0,1527.9 1125.5,1528.1 1127.1,1528.4 1128.6,1528.7 1130.2,1528.9 1131.7,1529.2 1133.3,1529.4 1134.8,1529.6 1136.4,1529.9 1137.9,1530.1 1139.5,1530.3 1141.0,1530.6 1142.6,1530.8 1144.1,1531.0 1145.7,1531.2 1147.3,1531.4 1148.8,1531.6 1150.4,1531.8 1151.9,1532.0 1153.5,1532.2 1155.0,1532.4 1156.6,1532.5 1158.1,1532.7 1159.7,1532.9 1161.2,1533.1 1162.8,1533.2 1164.3,1533.4 1165.9,1533.5 1167.4,1533.7 1169.0,1533.9 1170.6,1534.0 1172.1,1534.2 1173.7,1534.3 1175.2,1534.4 1176.8,1534.6 1178.3,1534.7 1179.9,1534.9 1181.4,1535.0 1183.0,1535.1 1184.5,1535.3 1186.1,1535.4 1187.6,1535.5 1189.2,1535.6 1190.7,1535.7 1192.3,1535.9 1193.9,1536.0 1195.4,1536.1 1197.0,1536.2 1198.5,1536.3 1200.1,1536.4 1201.6,1536.5 1203.2,1536.6 1204.7,1536.7 1206.3,1536.8 1207.8,1536.9 1209.4,1537.0 1210.9,1537.1 1212.5,1537.2 1214.0,1537.3 1215.6,1537.3 1217.2,1537.4 1218.7,1537.5 1220.3,1537.6 1221.8,1537.7 1223.4,1537.7 1224.9,1537.8 1226.5,1537.9 1228.0,1538.0 1229.6,1538.0 1231.1,1538.1 1232.7,1538.2 1234.2,1538.2 1235.8,1538.3 1237.3,1538.4 1238.9,1538.4 1240.5,1538.5 1242.0,1538.6 1243.6,1538.6 1245.1,1538.7 1246.7,1538.7 1248.2,1538.8 1249.8,1538.9 1251.3,1538.9 1252.9,1539.0 1254.4,1539.0 1256.0,1539.1 1257.5,1539.1 1259.1,1539.2 1260.6,1539.2 1262.2,1539.3 1263.8,1539.3 1265.3,1539.4 1266.9,1539.4 1268.4,1539.5 1270.0,1539.5 1271.5,1539.5 1273.1,1539.6 1274.6,1539.6 1276.2,1539.7 1277.7,1539.7 1279.3,1539.7 1280.8,1539.8 1282.4,1539.8 1283.9,1539.9 1285.5,1539.9 1287.1,1539.9 1288.6,1540.0 1290.2,1540.0 1291.7,1540.0 1293.3,1540.1 1294.8,1540.1 1296.4,1540.1 1297.9,1540.1 1299.5,1540.2 1301.0,1540.2 1302.6,1540.2 1304.1,1540.3 1305.7,1540.3 1307.2,1540.3 1308.8,1540.3 1310.4,1540.4 1311.9,1540.4 1313.5,1540.4 1315.0,1540.4 1316.6,1540.5 1318.1,1540.5 1319.7,1540.5 1321.2,1540.5 1322.8,1540.5 1324.3,1540.5 1325.9,1540.5 1327.4,1540.5 1329.0,1540.5 1330.5,1540.5 1332.1,1540.5 1333.7,1540.5 1335.2,1540.5 1336.8,1540.5 1338.3,1540.5 1339.9,1540.5 1341.4,1540.5 1343.0,1540.5 1344.5,1540.5 1346.1,1540.5 1347.6,1540.5 1349.2,1540.5 1350.7,1540.5 1352.3,1540.5 1353.8,1540.5 1355.4,1540.5 1357.0,1540.5 1358.5,1540.5 1360.1,1540.5 1361.6,1540.5 1363.2,1540.5 1364.7,1540.5 1366.3,1540.5 1367.8,1540.5 1369.4,1540.5 1370.9,1540.5 1372.5,1540.5 1374.0,1540.5 1375.6,1540.5 1377.1,1540.5 1378.7,1540.5 1380.3,1540.5 1381.8,1540.5 1383.4,1540.5 1384.9,1540.5 1386.5,1540.5 1388.0,1540.5 1389.6,1540.5 1391.1,1540.5 1392.7,1540.5 1394.2,1540.5 1395.8,1540.5 1397.3,1540.5 1398.9,1540.5 1400.4,1540.5 1402.0,1540.5 1403.6,1540.5 1405.1,1540.5 1406.7,1540.5 1408.2,1540.5 1409.8,1540.5 1411.3,1540.5 1412.9,1540.5 1414.4,1540.5 1416.0,1540.5 1417.5,1540.5 1419.1,1540.5 1420.6,1540.5 1422.2,1540.5 1423.7,1540.5 1425.3,1540.5 1426.9,1540.5 1428.4,1540.5 1430.0,1540.5 1431.5,1540.5 1433.1,1540.5 1434.6,1540.5 1436.2,1540.5 1437.7,1540.5 1439.3,1540.5 1440.8,1540.5 1442.4,1540.5 1443.9,1540.5 1445.5,1540.5 1447.0,1540.5 1448.6,1540.5" fill="none" stroke="#000" stroke-width="2.7" stroke-linejoin="round" />
<polyline points="889.4,1258.9 891.0,1260.7 892.5,1262.6 894.1,1264.4 895.6,1266.2 897.2,1268.0 898.7,1269.8 900.3,1271.5 901.8,1273.3 903.4,1275.0 904.9,1276.8 906.5,1278.5 908.0,1280.2 909.6,1282.0 911.1,1283.7 912.7,1285.3 914.3,1287.0 915.8,1288.7 917.4,1290.4 918.9,1292.0 920.5,1293.7 922.0,1295.3 923.6,1296.9 925.1,1298.5 926.7,1300.1 928.2,1301.7 929.8,1303.3 931.3,1304.9 932.9,1306.4 934.4,1308.0 936.0,1309.6 937.6,1311.1 939.1,1312.6 940.7,1314.1 942.2,1315.7 943.8,1317.2 945.3,1318.7 946.9,1320.1 948.4,1321.6 950.0,1323.1 951.5,1324.5 953.1,1326.0 954.6,1327.4 956.2,1328.9 957.7,1330.3 959.3,1331.7 960.9,1333.1 962.4,1334.5 964.0,1335.9 965.5,1337.3 967.1,1338.7 968.6,1340.1 970.2,1341.4 971.7,1342.8 973.3,1344.1 974.8,1345.5 976.4,1346.8 977.9,1348.1 979.5,1349.4 981.0,1350.7 982.6,1352.0 984.2,1353.3 985.7,1354.6 987.3,1355.9 988.8,1357.1 990.4,1358.4 991.9,1359.7 993.5,1360.9 995.0,1362.1 996.6,1363.4 998.1,1364.6 999.7,1365.8 1001.2,1367.0 1002.8,1368.2 1004.3,1369.4 1005.9,1370.6 1007.5,1371.8 1009.0,1373.0 1010.6,1374.1 1012.1,1375.3 1013.7,1376.5 1015.2,1377.6 1016.8,1378.7 1018.3,1379.9 1019.9,1381.0 1021.4,1382.1 1023.0,1383.2 1024.5,1384.4 1026.1,1385.5 1027.6,1386.6 1029.2,1387.6 1030.8,1388.7 1032.3,1389.8 1033.9,1390.9 1035.4,1391.9 1037.0,1393.0 1038.5,1394.0 1040.1,1395.1 1041.6,1396.1 1043.2,1397.2 1044.7,1398.2 1046.3,1399.2 1047.8,1400.2 1049.4,1401.2 1050.9,1402.2 1052.5,1403.2 1054.1,1404.2 1055.6,1405.2 1057.2,1406.2 1058.7,1407.2 1060.3,1408.1 1061.8,1409.1 1063.4,1410.1 1064.9,1411.0 1066.5,1411.9 1068.0,1412.9 1069.6,1413.8 1071.1,1414.8 1072.7,1415.7 1074.2,1416.6 1075.8,1417.5 1077.4,1418.4 1078.9,1419.3 1080.5,1420.2 1082.0,1421.1 1083.6,1422.0 1085.1,1422.9 1086.7,1423.8 1088.2,1424.6 1089.8,1425.5 1091.3,1426.4 1092.9,1427.2 1094.4,1428.1 1096.0,1428.9 1097.5,1429.7 1099.1,1430.6 1100.7,1431.4 1102.2,1432.2 1103.8,1433.1 1105.3,1433.9 1106.9,1434.7 1108.4,1435.5 1110.0,1436.3 1111.5,1437.1 1113.1,1437.9 1114.6,1438.7 1116.2,1439.5 1117.7,1440.2 1119.3,1441.0 1120.8,1441.8 1122.4,1442.6 1124.0,1443.3 1125.5,1444.1 1127.1,1444.8 1128.6,1445.6 1130.2,1446.3 1131.7,1447.1 1133.3,1447.8 1134.8,1448.5 1136.4,1449.3 1137.9,1450.0 1139.5,1450.7 1141.0,1451.4 1142.6,1452.1 1144.1,1452.8 1145.7,1453.5 1147.3,1454.2 1148.8,1454.9 1150.4,1455.6 1151.9,1456.3 1153.5,1457.0 1155.0,1457.6 1156.6,1458.3 1158.1,1459.0 1159.7,1459.7 1161.2,1460.3 1162.8,1461.0 1164.3,1461.6 1165.9,1462.3 1167.4,1462.9 1169.0,1463.6 1170.6,1464.2 1172.1,1464.8 1173.7,1465.5 1175.2,1466.1 1176.8,1466.7 1178.3,1467.3 1179.9,1468.0 1181.4,1468.6 1183.0,1469.2 1184.5,1469.8 1186.1,1470.4 1187.6,1471.0 1189.2,1471.6 1190.7,1472.2 1192.3,1472.8 1193.9,1473.3 1195.4,1473.9 1197.0,1474.5 1198.5,1475.1 1200.1,1475.6 1201.6,1476.2 1203.2,1476.8 1204.7,1477.3 1206.3,1477.9 1207.8,1478.5 1209.4,1479.0 1210.9,1479.6 1212.5,1480.1 1214.0,1480.6 1215.6,1481.2 1217.2,1481.7 1218.7,1482.2 1220.3,1482.8 1221.8,1483.3 1223.4,1483.8 1224.9,1484.3 1226.5,1484.9 1228.0,1485.4 1229.6,1485.9 1231.1,1486.4 1232.7,1486.9 1234.2,1487.4 1235.8,1487.9 1237.3,1488.4 1238.9,1488.9 1240.5,1489.4 1242.0,1489.9 1243.6,1490.3 1245.1,1490.8 1246.7,1491.3 1248.2,1491.8 1249.8,1492.3 1251.3,1492.7 1252.9,1493.2 1254.4,1493.7 1256.0,1494.1 1257.5,1494.6 1259.1,1495.0 1260.6,1495.5 1262.2,1495.9 1263.8,1496.4 1265.3,1496.8 1266.9,1497.3 1268.4,1497.7 1270.0,1498.2 1271.5,1498.6 1273.1,1499.0 1274.6,1499.5 1276.2,1499.9 1277.7,1500.3 1279.3,1500.7 1280.8,1501.2 1282.4,1501.6 1283.9,1502.0 1285.5,1502.4 1287.1,1502.8 1288.6,1503.2 1290.2,1503.6 1291.7,1504.0 1293.3,1504.4 1294.8,1504.8 1296.4,1505.2 1297.9,1505.6 1299.5,1506.0 1301.0,1506.4 1302.6,1506.8 1304.1,1507.2 1305.7,1507.6 1307.2,1508.0 1308.8,1508.3 1310.4,1508.7 1311.9,1509.1 1313.5,1509.5 1315.0,1509.8 1316.6,1510.2 1318.1,1510.6 1319.7,1510.9 1321.2,1511.3 1322.8,1511.6 1324.3,1512.0 1325.9,1512.4 1327.4,1512.7 1329.0,1513.1 1330.5,1513.4 1332.1,1513.8 1333.7,1514.1 1335.2,1514.4 1336.8,1514.8 1338.3,1515.1 1339.9,1515.5 1341.4,1515.8 1343.0,1516.1 1344.5,1516.5 1346.1,1516.8 1347.6,1517.1 1349.2,1517.4 1350.7,1517.8 1352.3,1518.1 1353.8,1518.4 1355.4,1518.7 1357.0,1519.0 1358.5,1519.4 1360.1,1519.7 1361.6,1520.0 1363.2,1520.3 1364.7,1520.6 1366.3,1520.9 1367.8,1521.2 1369.4,1521.5 1370.9,1521.8 1372.5,1522.1 1374.0,1522.4 1375.6,1522.7 1377.1,1523.0 1378.7,1523.3 1380.3,1523.6 1381.8,1523.8 1383.4,1524.1 1384.9,1524.4 1386.5,1524.7 1388.0,1525.0 1389.6,1525.3 1391.1,1525.5 1392.7,1525.8 1394.2,1526.1 1395.8,1526.4 1397.3,1526.6 1398.9,1526.9 1400.4,1527.2 1402.0,1527.4 1403.6,1527.7 1405.1,1528.0 1406.7,1528.2 1408.2,1528.5 1409.8,1528.7 1411.3,1529.0 1412.9,1529.3 1414.4,1529.5 1416.0,1529.8 1417.5,1530.0 1419.1,1530.3 1420.6,1530.5 1422.2,1530.8 1423.7,1531.0 1425.3,1531.2 1426.9,1531.5 1428.4,1531.7 1430.0,1532.0 1431.5,1532.2 1433.1,1532.4 1434.6,1532.7 1436.2,1532.9 1437.7,1533.1 1439.3,1533.4 1440.8,1533.6 1442.4,1533.8 1443.9,1534.1 1445.5,1534.3 1447.0,1534.5 1448.6,1534.7" fill="none" stroke="#000" stroke-width="2.7" stroke-linejoin="round" />
<line x1="920.5" y1="1291.5" x2="920.5" y2="1266.6" stroke="#000" stroke-width="2.6" />
<line x1="913.0" y1="1266.6" x2="928.0" y2="1266.6" stroke="#000" stroke-width="2.8" />
<line x1="936.0" y1="1291.5" x2="936.0" y2="1256.6" stroke="#000" stroke-width="2.6" />
<line x1="928.5" y1="1256.6" x2="943.5" y2="1256.6" stroke="#000" stroke-width="2.8" />
<line x1="982.6" y1="1357.5" x2="982.6" y2="1327.6" stroke="#000" stroke-width="2.6" />
<line x1="975.1" y1="1327.6" x2="990.1" y2="1327.6" stroke="#000" stroke-width="2.8" />
<line x1="982.6" y1="1357.5" x2="982.6" y2="1372.4" stroke="#000" stroke-width="2.6" />
<line x1="975.1" y1="1372.4" x2="990.1" y2="1372.4" stroke="#000" stroke-width="2.8" />
<line x1="1029.2" y1="1390.4" x2="1029.2" y2="1378.7" stroke="#000" stroke-width="2.6" />
<line x1="1021.7" y1="1378.7" x2="1036.7" y2="1378.7" stroke="#000" stroke-width="2.8" />
<line x1="1029.2" y1="1390.4" x2="1029.2" y2="1404.3" stroke="#000" stroke-width="2.6" />
<line x1="1021.7" y1="1404.3" x2="1036.7" y2="1404.3" stroke="#000" stroke-width="2.8" />
<line x1="1075.8" y1="1414.5" x2="1075.8" y2="1391.3" stroke="#000" stroke-width="2.6" />
<line x1="1068.3" y1="1391.3" x2="1083.3" y2="1391.3" stroke="#000" stroke-width="2.8" />
<line x1="936.0" y1="1352.5" x2="936.0" y2="1328.4" stroke="#000" stroke-width="2.6" />
<line x1="928.5" y1="1328.4" x2="943.5" y2="1328.4" stroke="#000" stroke-width="2.8" />
<line x1="936.0" y1="1352.5" x2="936.0" y2="1375.4" stroke="#000" stroke-width="2.6" />
<line x1="928.5" y1="1375.4" x2="943.5" y2="1375.4" stroke="#000" stroke-width="2.8" />
<line x1="982.6" y1="1384.9" x2="982.6" y2="1370.4" stroke="#000" stroke-width="2.6" />
<line x1="975.1" y1="1370.4" x2="990.1" y2="1370.4" stroke="#000" stroke-width="2.8" />
<line x1="982.6" y1="1384.9" x2="982.6" y2="1396.6" stroke="#000" stroke-width="2.6" />
<line x1="975.1" y1="1396.6" x2="990.1" y2="1396.6" stroke="#000" stroke-width="2.8" />
<line x1="1075.8" y1="1448.4" x2="1075.8" y2="1430.9" stroke="#000" stroke-width="2.6" />
<line x1="1068.3" y1="1430.9" x2="1083.3" y2="1430.9" stroke="#000" stroke-width="2.8" />
<line x1="1075.8" y1="1448.4" x2="1075.8" y2="1475.8" stroke="#000" stroke-width="2.6" />
<line x1="1068.3" y1="1475.8" x2="1083.3" y2="1475.8" stroke="#000" stroke-width="2.8" />
<line x1="920.5" y1="1369.4" x2="920.5" y2="1350.5" stroke="#000" stroke-width="2.6" />
<line x1="913.0" y1="1350.5" x2="928.0" y2="1350.5" stroke="#000" stroke-width="2.8" />
<line x1="920.5" y1="1369.4" x2="920.5" y2="1382.6" stroke="#000" stroke-width="2.6" />
<line x1="913.0" y1="1382.6" x2="928.0" y2="1382.6" stroke="#000" stroke-width="2.8" />
<line x1="982.6" y1="1453.3" x2="982.6" y2="1435.9" stroke="#000" stroke-width="2.6" />
<line x1="975.1" y1="1435.9" x2="990.1" y2="1435.9" stroke="#000" stroke-width="2.8" />
<line x1="982.6" y1="1453.3" x2="982.6" y2="1468.3" stroke="#000" stroke-width="2.6" />
<line x1="975.1" y1="1468.3" x2="990.1" y2="1468.3" stroke="#000" stroke-width="2.8" />
<line x1="904.9" y1="1249.4" x2="904.9" y2="1204.3" stroke="#000" stroke-width="2.6" />
<line x1="897.4" y1="1204.3" x2="912.4" y2="1204.3" stroke="#000" stroke-width="2.8" />
<line x1="904.9" y1="1249.4" x2="904.9" y2="1264.1" stroke="#000" stroke-width="2.6" />
<line x1="897.4" y1="1264.1" x2="912.4" y2="1264.1" stroke="#000" stroke-width="2.8" />
<line x1="920.5" y1="1289.0" x2="920.5" y2="1251.7" stroke="#000" stroke-width="2.6" />
<line x1="913.0" y1="1251.7" x2="928.0" y2="1251.7" stroke="#000" stroke-width="2.8" />
<line x1="936.0" y1="1273.3" x2="936.0" y2="1246.7" stroke="#000" stroke-width="2.6" />
<line x1="928.5" y1="1246.7" x2="943.5" y2="1246.7" stroke="#000" stroke-width="2.8" />
<line x1="936.0" y1="1273.3" x2="936.0" y2="1300.5" stroke="#000" stroke-width="2.6" />
<line x1="928.5" y1="1300.5" x2="943.5" y2="1300.5" stroke="#000" stroke-width="2.8" />
<line x1="982.6" y1="1279.5" x2="982.6" y2="1252.4" stroke="#000" stroke-width="2.6" />
<line x1="975.1" y1="1252.4" x2="990.1" y2="1252.4" stroke="#000" stroke-width="2.8" />
<line x1="982.6" y1="1279.5" x2="982.6" y2="1305.4" stroke="#000" stroke-width="2.6" />
<line x1="975.1" y1="1305.4" x2="990.1" y2="1305.4" stroke="#000" stroke-width="2.8" />
<line x1="1029.2" y1="1298.5" x2="1029.2" y2="1260.4" stroke="#000" stroke-width="2.6" />
<line x1="1021.7" y1="1260.4" x2="1036.7" y2="1260.4" stroke="#000" stroke-width="2.8" />
<line x1="1029.2" y1="1298.5" x2="1029.2" y2="1334.6" stroke="#000" stroke-width="2.6" />
<line x1="1021.7" y1="1334.6" x2="1036.7" y2="1334.6" stroke="#000" stroke-width="2.8" />
<line x1="1169.0" y1="1272.6" x2="1169.0" y2="1220.5" stroke="#000" stroke-width="2.6" />
<line x1="1161.5" y1="1220.5" x2="1176.5" y2="1220.5" stroke="#000" stroke-width="2.8" />
<line x1="1169.0" y1="1272.6" x2="1169.0" y2="1323.4" stroke="#000" stroke-width="2.6" />
<line x1="1161.5" y1="1323.4" x2="1176.5" y2="1323.4" stroke="#000" stroke-width="2.8" />
<line x1="1262.2" y1="1335.1" x2="1262.2" y2="1317.9" stroke="#000" stroke-width="2.6" />
<line x1="1254.7" y1="1317.9" x2="1269.7" y2="1317.9" stroke="#000" stroke-width="2.8" />
<line x1="1262.2" y1="1335.1" x2="1262.2" y2="1352.5" stroke="#000" stroke-width="2.6" />
<line x1="1254.7" y1="1352.5" x2="1269.7" y2="1352.5" stroke="#000" stroke-width="2.8" />
<line x1="1355.4" y1="1335.1" x2="1355.4" y2="1293.0" stroke="#000" stroke-width="2.6" />
<line x1="1347.9" y1="1293.0" x2="1362.9" y2="1293.0" stroke="#000" stroke-width="2.8" />
<line x1="1355.4" y1="1335.1" x2="1355.4" y2="1375.7" stroke="#000" stroke-width="2.6" />
<line x1="1347.9" y1="1375.7" x2="1362.9" y2="1375.7" stroke="#000" stroke-width="2.8" />
<line x1="1448.6" y1="1285.5" x2="1448.6" y2="1253.2" stroke="#000" stroke-width="2.6" />
<line x1="1441.1" y1="1253.2" x2="1456.1" y2="1253.2" stroke="#000" stroke-width="2.8" />
<line x1="1448.6" y1="1285.5" x2="1448.6" y2="1316.9" stroke="#000" stroke-width="2.6" />
<line x1="1441.1" y1="1316.9" x2="1456.1" y2="1316.9" stroke="#000" stroke-width="2.8" />
<rect x="898.3" y="1282.9" width="13.2" height="13.2" fill="#fff" stroke="#000" stroke-width="2.8"/>
<rect x="913.9" y="1284.9" width="13.2" height="13.2" fill="#fff" stroke="#000" stroke-width="2.8"/>
<rect x="929.4" y="1284.9" width="13.2" height="13.2" fill="#fff" stroke="#000" stroke-width="2.8"/>
<rect x="976.0" y="1350.9" width="13.2" height="13.2" fill="#fff" stroke="#000" stroke-width="2.8"/>
<rect x="1022.6" y="1383.8" width="13.2" height="13.2" fill="#fff" stroke="#000" stroke-width="2.8"/>
<rect x="1069.2" y="1407.9" width="13.2" height="13.2" fill="#fff" stroke="#000" stroke-width="2.8"/>
<rect x="1162.4" y="1460.2" width="13.2" height="13.2" fill="#fff" stroke="#000" stroke-width="2.8"/>
<rect x="1255.6" y="1490.3" width="13.2" height="13.2" fill="#fff" stroke="#000" stroke-width="2.8"/>
<rect x="1348.8" y="1512.0" width="13.2" height="13.2" fill="#fff" stroke="#000" stroke-width="2.8"/>
<rect x="1442.0" y="1522.7" width="13.2" height="13.2" fill="#fff" stroke="#000" stroke-width="2.8"/>
<circle cx="904.9" cy="1291.5" r="6.6" fill="#fff" stroke="#000" stroke-width="2.8"/>
<circle cx="920.5" cy="1333.8" r="6.6" fill="#fff" stroke="#000" stroke-width="2.8"/>
<circle cx="936.0" cy="1352.5" r="6.6" fill="#fff" stroke="#000" stroke-width="2.8"/>
<circle cx="982.6" cy="1384.9" r="6.6" fill="#fff" stroke="#000" stroke-width="2.8"/>
<circle cx="1029.2" cy="1427.2" r="6.6" fill="#fff" stroke="#000" stroke-width="2.8"/>
<circle cx="1075.8" cy="1448.4" r="6.6" fill="#fff" stroke="#000" stroke-width="2.8"/>
<circle cx="1169.0" cy="1486.2" r="6.6" fill="#fff" stroke="#000" stroke-width="2.8"/>
<circle cx="1262.2" cy="1514.1" r="6.6" fill="#fff" stroke="#000" stroke-width="2.8"/>
<circle cx="1355.4" cy="1533.0" r="6.6" fill="#fff" stroke="#000" stroke-width="2.8"/>
<circle cx="1448.6" cy="1536.8" r="6.6" fill="#fff" stroke="#000" stroke-width="2.8"/>
<rect x="896.9" y="1312.4" width="16" height="16" fill="#000"/>
<rect x="912.5" y="1361.4" width="16" height="16" fill="#000"/>
<rect x="928.0" y="1386.6" width="16" height="16" fill="#000"/>
<rect x="974.6" y="1445.3" width="16" height="16" fill="#000"/>
<rect x="1021.2" y="1488.9" width="16" height="16" fill="#000"/>
<rect x="1067.8" y="1511.3" width="16" height="16" fill="#000"/>
<rect x="1161.0" y="1530.0" width="16" height="16" fill="#000"/>
<rect x="1254.2" y="1531.3" width="16" height="16" fill="#000"/>
<rect x="1347.4" y="1531.3" width="16" height="16" fill="#000"/>
<rect x="1440.6" y="1531.3" width="16" height="16" fill="#000"/>
<circle cx="904.9" cy="1249.4" r="8" fill="#000"/>
<circle cx="920.5" cy="1289.0" r="8" fill="#000"/>
<circle cx="936.0" cy="1273.3" r="8" fill="#000"/>
<circle cx="982.6" cy="1279.5" r="8" fill="#000"/>
<circle cx="1029.2" cy="1298.5" r="8" fill="#000"/>
<circle cx="1075.8" cy="1304.4" r="8" fill="#000"/>
<circle cx="1169.0" cy="1272.6" r="8" fill="#000"/>
<circle cx="1262.2" cy="1335.1" r="8" fill="#000"/>
<circle cx="1355.4" cy="1335.1" r="8" fill="#000"/>
<circle cx="1448.6" cy="1285.5" r="8" fill="#000"/>
<line x1="938.5" y1="1150.3" x2="981.0" y2="1150.3" stroke="#000" stroke-width="3.2" />
<circle cx="959.8" cy="1150.3" r="8.5" fill="#000"/>
<text x="1002" y="1158.3" font-size="31" textLength="139" lengthAdjust="spacingAndGlyphs" style="stroke:#000;stroke-width:0.5">T-NR2B9c</text>
<line x1="938.5" y1="1192.3" x2="981.0" y2="1192.3" stroke="#000" stroke-width="3.2" />
<circle cx="959.8" cy="1192.3" r="7.1" fill="#fff" stroke="#000" stroke-width="2.8"/>
<text x="1002" y="1200.3" font-size="31" textLength="63.5" lengthAdjust="spacingAndGlyphs" style="stroke:#000;stroke-width:0.5">T-Tat</text>
<line x1="1161.2" y1="1150.3" x2="1201.7" y2="1150.3" stroke="#000" stroke-width="3.2" />
<rect x="1173.0" y="1141.8" width="17.0" height="17.0" fill="#000"/>
<text x="1222" y="1158.3" font-size="31" textLength="187.2" lengthAdjust="spacingAndGlyphs" style="stroke:#000;stroke-width:0.5">T-Tat-NR2B9c</text>
<line x1="1161.2" y1="1192.8" x2="1201.7" y2="1192.8" stroke="#000" stroke-width="3.2" />
<rect x="1174.4" y="1185.7" width="14.2" height="14.2" fill="#fff" stroke="#000" stroke-width="2.8"/>
<text x="1222" y="1200.8" font-size="31" textLength="182" lengthAdjust="spacingAndGlyphs" style="stroke:#000;stroke-width:0.5">T-Tat-<tspan font-style="italic">N</tspan>-dimer</text>
</svg></body></html>
